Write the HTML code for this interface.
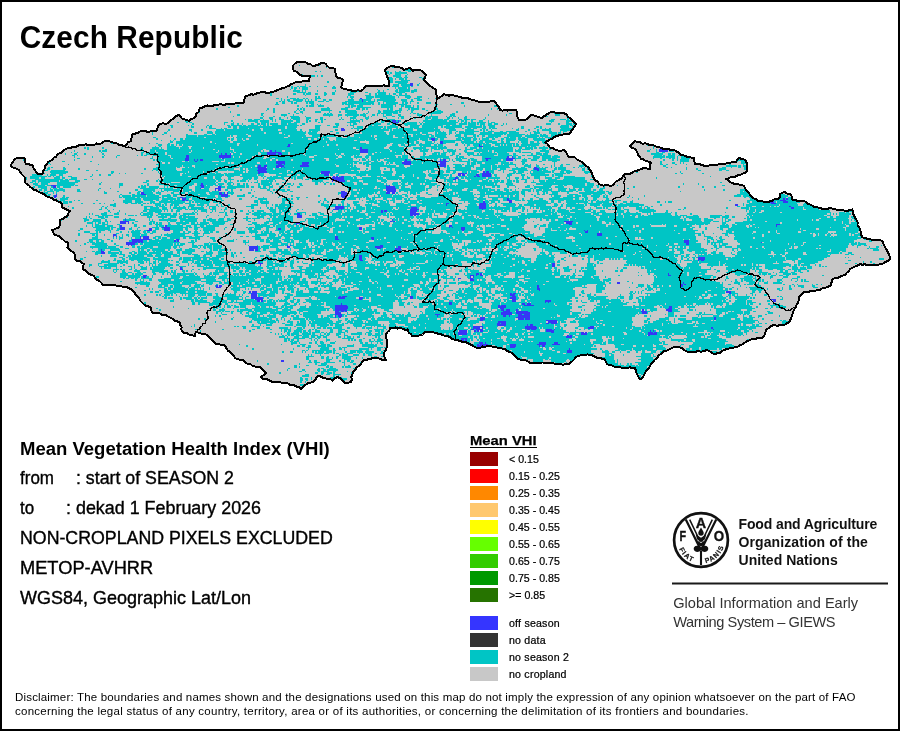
<!DOCTYPE html>
<html lang="en">
<head>
<meta charset="utf-8">
<title>Czech Republic - Mean Vegetation Health Index (VHI)</title>
<style>
html,body{margin:0;padding:0;background:#fff;}
body{width:900px;height:731px;overflow:hidden;font-family:"Liberation Sans",Arial,sans-serif;color:#000;}
#page{position:relative;width:900px;height:731px;box-sizing:border-box;border:2px solid #000;background:#fff;overflow:hidden;}
#page>*{position:absolute;}
#fg{left:0;top:0;width:896px;height:727px;will-change:transform;}
#fg>*{position:absolute;}
.abs{position:absolute;white-space:pre;margin:0;}
svg.map{left:-2px;top:-2px;}
h1{font-size:29.8px;font-weight:bold;left:17.7px;top:18.6px;line-height:34px;letter-spacing:0.1px;transform:scaleY(1.045);transform-origin:0 27.35px;}
.info{left:18px;font-size:17px;line-height:20px;}
.info b{font-weight:bold;}
.r{-webkit-text-stroke:0.35px #000;}
.lg{font-size:10px;line-height:12px;left:507.3px;letter-spacing:0.02px;transform:scaleX(1.06);transform-origin:0 0;-webkit-text-stroke:0.22px #000;}
.sw{left:468px;width:28px;height:14px;}
.lgt{left:467.6px;top:430.5px;font-size:13.4px;line-height:16px;font-weight:bold;letter-spacing:0;transform:scaleX(1.105);transform-origin:0 0;-webkit-text-stroke:0.25px #000;}
.lgu{left:468px;top:445px;width:67px;height:1.3px;background:#000;}
.fao{left:736.5px;font-size:14px;line-height:18px;font-weight:bold;color:#111;letter-spacing:-0.12px;}
.giews{left:671.2px;font-size:14.6px;line-height:18px;color:#333;}
.rule{left:670px;top:580px;width:216px;height:2px;background:#1a1a1a;transform:translateY(0.5px);}
.disc{left:13px;font-size:11.5px;line-height:14px;color:#000;}
</style>
</head>
<body>
<div id="page">
<svg class="map" width="900" height="420" viewBox="0 0 900 420">
<defs><clipPath id="cz"><path d="M11 166L11.7 163.4L13.3 161.7L14.5 159L17.1 158L18.9 157.7L21.8 158.5L24 157.5L24.9 159.6L25 161.7L26 164L28.5 163.8L30.3 164.9L32.5 165L33.4 167.5L34.3 169.6L36.2 171.8L37.5 174L40.1 173.8L42.5 174L43 171L44.6 169.1L45 166L46.6 164.4L48.4 161.9L50.1 161L52.2 159.6L54 157.5L56.2 156.7L57.4 154.2L59.8 153.1L62.5 152.2L63.5 150.4L66 149L68.6 147.8L70.8 147.8L72.6 146.7L75.6 147.2L77.6 145.9L79.7 145L82.5 145L85.6 144.3L88 144.9L90.9 145.4L94 145L96.6 143.5L99.2 144.1L102 143.1L104.3 141.3L107.5 141L110.1 141.5L112.5 142.5L114.6 142.7L117.4 143.6L119 145.2L121.5 145.2L124 146L126.2 144.8L128.2 142.2L131 141L131.2 138.3L132.4 136.4L132.5 134L135 133.6L137.5 133.1L139.4 131.7L141.5 131.1L144 131L147 131.6L149.1 131.6L152 131.2L155 131.5L157.1 129.7L158 126.4L160 124L163.3 123.3L166 124L168.1 122.7L170.1 120.9L172.5 119L174.6 117.9L176.2 115.9L179 115L180.8 117.1L182.5 119L184.9 119.4L186.6 120L189 121L191.1 119.2L193.8 118.3L196 116L196.5 113.6L198.8 111.8L199.1 110.1L200 107.5L202.7 107.5L204.9 106.1L207.6 105.5L210.3 106.1L212.4 105.8L215 105L217.3 105.3L219.9 104.2L222.3 104.6L225.1 104.6L227.6 103.9L230.2 103.9L232.5 104L235.6 103.3L238.3 103.1L241.2 103.1L244 102.5L244.4 99.9L244.7 98.1L246 96L248 95.6L250.8 94.3L253.2 94.6L255.7 94.2L257.7 92.8L260 92.5L262.7 92.3L264.7 92.3L267.7 93.1L270 92.5L272.7 92L275.1 91.2L277.2 90.1L280 89L282.5 88.2L284.8 87.7L287 86.6L289 86L291 84.2L292.6 83.7L295 82.5L297.8 82.4L300.9 81.8L303.4 81L306.2 81.2L309 81L309.4 78.8L310 76L307.2 75.7L305.3 76L302.5 75.9L300 75L298.7 73.3L296.4 71.7L294 71L292.7 68.7L292.5 66L294.9 63.6L297.5 62L300.2 62.2L303.5 62L306 62.5L308.1 63.7L310.7 64.2L312.2 65.7L315 66L317 64.7L319.2 64.4L321.3 62.8L324 62.5L325.9 64.2L327 65.7L329 67.5L332.1 67.6L335 69L334.8 71.7L335.9 73.9L336 76L337.8 77.6L340.1 78.3L342.5 79L342.5 82L342.1 84.9L341 87.5L343.4 88.7L345.2 88.6L347.9 90L350 90L352.8 91L355.4 90.7L358.1 90.3L361 91L362.8 89.7L364.5 87.9L366 86L368.9 85.9L371.1 85.5L374 85.5L376.1 86L378.9 85.5L381 85.8L383.8 85.3L386.5 86.1L389 86L389 82.7L388.6 80L387.5 77.5L386.6 75L385.7 72.6L385 70L386.8 68L388.5 67.2L391 66L393.4 66.4L395.4 66.6L397.4 67.3L400 67.5L402.5 68.2L404 70L407.3 68.7L410 67.5L411.5 69.4L412.5 71L414.5 70L417.3 70.5L420 70L422.2 71L424 73.1L426 75L424.8 77.8L424 80L426 81.7L427.6 83.8L430 86L432 87.1L433.8 88.3L436 90L436.3 92.4L436.4 94.9L437.4 96.8L437.5 99L439.4 97.4L442.3 96L444 94L446.9 95.2L449.1 95.6L452.1 94.7L455 96L457.7 96.4L460 96.9L462.1 97.8L464.6 98.2L467.7 98.2L470 99L472.3 100.1L475.3 100.5L477.3 101.2L480 102.5L482.4 101.9L485.3 102.4L488.2 102.3L491.2 101L494 101L495.7 103L497.4 105.1L499 107.2L500 110L502.5 110.6L505.5 109.7L507.8 110.6L510.8 109.8L513.4 110.4L516 110L517.1 112.1L517.2 115.3L517.7 117.9L519 120L521.7 119.9L525 120L527.5 118.7L529.2 116.7L531 115L533.2 115.3L535.6 116.1L538.2 116.9L540 117.5L542.5 117.5L545.2 115.5L547.6 113.9L550 112.5L552.8 112L555.8 112.7L558.1 113.4L561.3 113.1L564 113L566.5 114.6L568.2 117L570.3 118.2L572.3 120.2L573.9 122.3L576 124L574.8 126.2L573.2 128.4L571.9 130L570.8 132L569 134L566.2 133.8L563.1 134.5L560.5 134.7L557.5 136L554.5 136.8L552.3 138.6L549.9 139.6L547.6 140.9L545 142.5L547.3 143.8L548.6 146L550 147.5L553.4 148.5L556 150L559 150.7L561.1 150.7L564 150L566 152L567.3 154.6L569 157.5L571.6 157L575 157.5L577 159.6L579.9 161L582.5 162.5L584.3 164.8L586.4 166.1L588.4 167.6L590 170L591.3 171.9L592.3 174.4L593.2 176.5L594 179L595.1 180.6L597.7 181.2L599 184L601 185L603.8 185.6L606.4 185.1L608.6 185.4L611 186L613.4 184.6L614.8 182.7L616.5 181.1L619 180L621.7 178.3L623.2 175.9L625 174L627.5 174.1L630.1 173.7L632.5 172.5L634.6 171L637.3 170.6L639.2 169.9L642.1 168.6L644 167.5L647.3 168.6L650 169L650.4 166.6L650.2 164.3L651 162.5L648.2 161.6L645.8 161L643.5 159.3L641 159L639.7 156.3L638.1 155.1L637.1 151.9L636 150L634.3 148.5L631.7 147.8L630 146L631.6 144.3L633.3 142.9L635 141L637.2 142.2L640 141.7L642.1 143.6L645.4 143.4L647.8 144.2L650 145L653 145L654.8 145.8L657.8 147.3L660 147.5L662.9 148.7L665.9 149.2L668.1 149L671 150L674 150L676.5 151.4L678.8 152.5L681 155L683.8 155.3L686.5 156.6L689 157.3L691.5 157.6L694 158L694.3 160.7L695 164L698.1 163.9L700.8 164.6L702.9 165.4L706 166L708.8 165.7L711.3 164.6L714.2 164.5L717 164.7L720 164L722.7 163.7L725.1 164.2L727.7 162.6L730.4 162.6L733 162.1L736 162.5L737.1 159.8L739 157.5L741.1 158.8L743.6 159.2L746 161L746.7 163.2L746.8 166.3L746.8 168.3L747.5 171L745.6 172.8L742.6 173.7L740 175L737.9 175.3L735.3 176.7L733 176.9L730.8 177L728.4 178.8L726 179L728.5 180.5L730.2 182.2L732.7 183.2L735 184L737.4 184L739.5 184.7L741.5 184.9L744 186L745.2 188.7L746.6 190.6L748.5 192.5L750 195L752 196.8L753.8 198.5L756 199.3L757.5 201L760.1 200.8L762.6 201.2L764.9 202.2L767.5 202.5L770.1 201.2L772.4 200.5L774.6 199L778 198.8L780 197.5L780 194L782.7 192.7L785 192L786.5 193.4L789.3 193.8L791 195L792.1 197.8L792.5 200L795.2 200.1L797.2 200.8L799.8 201.3L802.5 201L805 201.6L807.6 203.6L810.4 204.7L812.9 206L815 207.5L817.5 207.3L820.1 208L822.5 209L824.9 208.5L827.6 208.8L830 208L832.4 208.6L834.9 209.3L837.8 209.7L839.9 209.9L842.9 209.8L845.2 211L847.5 211L849.8 209.9L852.5 209.5L852.7 212.1L853.7 215L855 217.5L856.4 219.8L857.6 222.4L857.5 224.8L859.4 227.6L860 230L861.3 232.4L861.2 235.2L862.5 237.5L865.5 237.7L867.5 239.1L870.1 239.1L872.5 240L874.7 240.1L877.2 239.9L879.8 240.2L882.5 241L883.5 243.8L884.8 246.6L886 249L887.5 251.2L888.6 253.7L889.5 255.9L890 259L887.9 261.1L884.9 261.9L882.5 264L880.2 263.9L877.6 265L875 265L872.5 265.5L869.7 264.5L867.2 265.1L864.9 264.2L862.2 264.8L860 264L857.6 265.6L854.7 266.6L852.1 267.8L850 269L848.6 271.4L846.6 272.9L845 275L842.4 275.6L840 276.9L837.7 278L835.2 278.2L832.5 279L831.6 282.1L831 285L829.1 286.3L826.7 287.3L824.7 288L822.1 288.4L819.7 289.9L817.5 290L815.1 290.8L812.7 291.3L810.4 291.4L807.8 291.7L805.2 292L803 292.5L801.5 294.7L799 297L798.9 299.7L798 302.5L796.6 304.9L795.7 307.3L794 310L793.2 311.7L792.5 314L791.6 316.6L790.7 318.7L790 321.5L787.4 323L785.5 324.4L783 325L780.5 325.3L778.5 325.5L776.2 325.5L773.1 325.3L771 326L768.6 328.2L766 330L765.4 332.4L765 334L764.1 336.3L762 338L759.3 338.4L757 338.2L754.5 339.5L752 339L750 340.2L747.3 341.1L745 342.5L743 344L740.5 345L738 346.5L734.9 347.4L732.7 347.7L729.4 348.4L727 349L724.3 349.9L721.9 351.2L720 353L717.5 353.2L715 354L711.9 353.1L709.4 351L707 350L704.4 350.8L702.1 351.5L700 351.5L697.8 351L694.6 352.3L692.3 351.6L690 352.5L687.6 351.9L684.5 350.2L682.8 348.4L680 347.5L676.7 346.8L674 347L671.3 348.4L669.3 349.3L667 350.5L664 351L662.4 352.4L660.5 354.2L658.6 355.6L657.2 358L655 359.5L653.3 361.6L651.6 363.4L650.3 365.4L649.3 367.4L647.5 369.5L645.8 371.1L644.9 373.1L643.9 375.3L642.4 377.8L641 379.5L639 378L637.7 375.5L636.5 373.3L635.9 370.5L635 368L632.3 368.3L629.8 367.1L627.5 368.3L624.9 367.7L622.3 367.9L619.6 367.2L617.5 367L614.9 367.1L612.2 365.7L610.3 364.8L607.5 364.5L605.9 362L605 359.5L602.7 359L599.9 357.6L597.4 357.8L595 357L592.9 355.6L589.9 354.7L587.5 354.5L584.8 354.6L582.4 355L580.2 355.5L577.5 356L575.6 357.7L574 359.5L572.3 361.3L570.7 362.3L569 364.5L566.2 363.9L563.3 364.8L560 364L557.5 364.1L555.2 363.9L552.6 363L550.2 362.7L547.5 363L545.1 362.7L542.4 362.5L540.3 362.7L537.6 362.6L534.7 362.6L532.5 363L530.2 362.9L527.2 361.1L525.2 360.3L523 359.8L520 359.5L517.6 358.5L515.8 356.3L513.8 355.3L512.6 353L510 352L507.4 351.1L505.5 349.4L502.7 348.8L500 348L497.7 347.7L494.9 347L492.5 346.7L490 346L487.2 346.2L485.1 346.7L482.6 346.5L479.8 348.3L477.5 348L475.3 347.2L472.9 345.8L470.3 344.5L468.4 343.6L466 342L463.1 342L461.1 341.4L458.2 340.4L456 340.5L453.7 339.2L451.7 338.6L449.9 337.1L447.5 336L445.4 335.8L442.5 335.1L441 333.9L438.1 333.8L436 333L433.3 332.2L430.7 332.2L427.5 331.8L425 332L422.5 334.5L420.2 335.1L417.5 336.2L415.4 335.7L412.5 336.5L410.7 333.9L408.8 332.5L407.5 329.5L404.9 329.7L402.2 328.6L400 328L397.7 328.7L395.4 327.3L392.6 328.4L390 328L389.4 330.4L387.2 332.3L386 334.5L386.2 337.1L386.5 339.2L386.9 342.1L387.5 344.5L387 346.7L386 349.2L385.3 350.8L384 353L384.3 355.8L384.9 358.3L386 360.5L383.2 360L380.4 359.2L378.1 358L375 358L372.8 357.9L369.7 359.3L367.5 359.5L365 359.5L362.5 361.3L360.9 364L359 366L356.1 367.7L355.2 370.2L352.5 372L352.5 374.3L351.3 377.2L352 379.2L351 382L347.9 382.8L345 383L343.4 381.2L341.1 379.6L340 378.2L337.5 377L334.6 378.6L332.5 380.5L330.3 379.1L327.4 379.3L325 378L322.5 377.5L320 376.2L317.5 376L316 378.2L315 380.5L313 381.9L309.8 382.8L307.5 383.5L305 385.3L302.9 387.2L301 389L299.5 387.3L297.5 387L294.8 385.6L292.4 385L290.2 385.3L287.9 383.3L285 383L282.8 383.1L280.4 382.4L277.7 382L274.7 381.8L272.5 382L270.4 380.8L267.7 379.7L265.9 378.8L262.7 378.6L261 377L263.3 375.4L266 373L264 370.9L261.6 369L260 367L257.7 367.1L255.1 366.6L252.5 366L250.6 364.2L248 364L245.7 362.7L244 361L242.2 359.8L239.7 359.6L237 359L235 358L234 355.7L231.8 354.1L230 352L227.9 350.6L226.5 348.7L226 346.7L224 345L221.6 344.7L218.9 344.3L216 344.5L214.1 342.2L212.2 340.6L210.4 338.2L208.3 336.2L206 334.5L203.3 333.9L200.7 333.4L198.3 332.7L196 332L195.1 334.3L195 336L192.1 335.4L189 334.5L187.1 333L184.5 332.9L182.5 332L181.4 329.5L181.6 327.3L180.3 325.1L180 323L177.5 321.3L175 321L173.6 319.4L171 317.9L169.3 317.3L167.2 315.9L165 314.5L162.1 314.9L160 313.4L157.4 313.2L155.3 313.4L152.5 313L151.4 310.6L151 308L149.1 306.7L146.6 306L144.1 304.5L142.5 303L140.7 301.3L139.7 299.1L138 297L135.7 295.1L135 293L133.4 291.7L131.9 289.8L129.6 288.6L127.5 287.5L124.8 287.4L122.2 286.5L119.4 286.4L116.5 285.6L114 285L111.5 285.5L108.6 284.5L105.3 284.8L102.5 285L101.5 282.9L99.7 281.2L97 279.8L95.3 278.1L94 276L91.9 274.9L89 274L87.1 272L85.4 270.3L82.5 269L82.7 266.2L84 264L81.6 263.1L79.9 261L77.2 261L75 259L74.7 256.6L74.7 254.6L74 252.5L71.8 251.3L69.6 249.6L67.5 247.5L68.1 245.1L67.5 242.5L64.6 241.2L62.5 239L60.7 238L58.3 235.7L55.7 235.4L54 234L52.9 231.9L52 230L54.6 229.3L56.4 228.3L59 227.5L59.8 225.1L59.6 222.3L60 220L63 218.7L65 217.1L67.5 216L68.1 213.5L70 211L67.5 210.2L65.2 208.8L62.5 207.5L62.4 204.9L61 202.5L58.3 201.7L56.3 200.3L54 200L51.7 197.9L48.5 197.1L45.9 195.9L44 194L41.6 193.2L39.1 192.1L36.5 190.4L34 190L32.6 188.4L30.6 187.3L29.1 185.5L26.9 184.3L25 182.5L25.5 179.7L25 177.5L23.1 175.6L21.5 173.9L20.2 172.1L19 170L16.5 168.6L13.4 167.7Z"/></clipPath></defs>
<path d="M11 166L11.7 163.4L13.3 161.7L14.5 159L17.1 158L18.9 157.7L21.8 158.5L24 157.5L24.9 159.6L25 161.7L26 164L28.5 163.8L30.3 164.9L32.5 165L33.4 167.5L34.3 169.6L36.2 171.8L37.5 174L40.1 173.8L42.5 174L43 171L44.6 169.1L45 166L46.6 164.4L48.4 161.9L50.1 161L52.2 159.6L54 157.5L56.2 156.7L57.4 154.2L59.8 153.1L62.5 152.2L63.5 150.4L66 149L68.6 147.8L70.8 147.8L72.6 146.7L75.6 147.2L77.6 145.9L79.7 145L82.5 145L85.6 144.3L88 144.9L90.9 145.4L94 145L96.6 143.5L99.2 144.1L102 143.1L104.3 141.3L107.5 141L110.1 141.5L112.5 142.5L114.6 142.7L117.4 143.6L119 145.2L121.5 145.2L124 146L126.2 144.8L128.2 142.2L131 141L131.2 138.3L132.4 136.4L132.5 134L135 133.6L137.5 133.1L139.4 131.7L141.5 131.1L144 131L147 131.6L149.1 131.6L152 131.2L155 131.5L157.1 129.7L158 126.4L160 124L163.3 123.3L166 124L168.1 122.7L170.1 120.9L172.5 119L174.6 117.9L176.2 115.9L179 115L180.8 117.1L182.5 119L184.9 119.4L186.6 120L189 121L191.1 119.2L193.8 118.3L196 116L196.5 113.6L198.8 111.8L199.1 110.1L200 107.5L202.7 107.5L204.9 106.1L207.6 105.5L210.3 106.1L212.4 105.8L215 105L217.3 105.3L219.9 104.2L222.3 104.6L225.1 104.6L227.6 103.9L230.2 103.9L232.5 104L235.6 103.3L238.3 103.1L241.2 103.1L244 102.5L244.4 99.9L244.7 98.1L246 96L248 95.6L250.8 94.3L253.2 94.6L255.7 94.2L257.7 92.8L260 92.5L262.7 92.3L264.7 92.3L267.7 93.1L270 92.5L272.7 92L275.1 91.2L277.2 90.1L280 89L282.5 88.2L284.8 87.7L287 86.6L289 86L291 84.2L292.6 83.7L295 82.5L297.8 82.4L300.9 81.8L303.4 81L306.2 81.2L309 81L309.4 78.8L310 76L307.2 75.7L305.3 76L302.5 75.9L300 75L298.7 73.3L296.4 71.7L294 71L292.7 68.7L292.5 66L294.9 63.6L297.5 62L300.2 62.2L303.5 62L306 62.5L308.1 63.7L310.7 64.2L312.2 65.7L315 66L317 64.7L319.2 64.4L321.3 62.8L324 62.5L325.9 64.2L327 65.7L329 67.5L332.1 67.6L335 69L334.8 71.7L335.9 73.9L336 76L337.8 77.6L340.1 78.3L342.5 79L342.5 82L342.1 84.9L341 87.5L343.4 88.7L345.2 88.6L347.9 90L350 90L352.8 91L355.4 90.7L358.1 90.3L361 91L362.8 89.7L364.5 87.9L366 86L368.9 85.9L371.1 85.5L374 85.5L376.1 86L378.9 85.5L381 85.8L383.8 85.3L386.5 86.1L389 86L389 82.7L388.6 80L387.5 77.5L386.6 75L385.7 72.6L385 70L386.8 68L388.5 67.2L391 66L393.4 66.4L395.4 66.6L397.4 67.3L400 67.5L402.5 68.2L404 70L407.3 68.7L410 67.5L411.5 69.4L412.5 71L414.5 70L417.3 70.5L420 70L422.2 71L424 73.1L426 75L424.8 77.8L424 80L426 81.7L427.6 83.8L430 86L432 87.1L433.8 88.3L436 90L436.3 92.4L436.4 94.9L437.4 96.8L437.5 99L439.4 97.4L442.3 96L444 94L446.9 95.2L449.1 95.6L452.1 94.7L455 96L457.7 96.4L460 96.9L462.1 97.8L464.6 98.2L467.7 98.2L470 99L472.3 100.1L475.3 100.5L477.3 101.2L480 102.5L482.4 101.9L485.3 102.4L488.2 102.3L491.2 101L494 101L495.7 103L497.4 105.1L499 107.2L500 110L502.5 110.6L505.5 109.7L507.8 110.6L510.8 109.8L513.4 110.4L516 110L517.1 112.1L517.2 115.3L517.7 117.9L519 120L521.7 119.9L525 120L527.5 118.7L529.2 116.7L531 115L533.2 115.3L535.6 116.1L538.2 116.9L540 117.5L542.5 117.5L545.2 115.5L547.6 113.9L550 112.5L552.8 112L555.8 112.7L558.1 113.4L561.3 113.1L564 113L566.5 114.6L568.2 117L570.3 118.2L572.3 120.2L573.9 122.3L576 124L574.8 126.2L573.2 128.4L571.9 130L570.8 132L569 134L566.2 133.8L563.1 134.5L560.5 134.7L557.5 136L554.5 136.8L552.3 138.6L549.9 139.6L547.6 140.9L545 142.5L547.3 143.8L548.6 146L550 147.5L553.4 148.5L556 150L559 150.7L561.1 150.7L564 150L566 152L567.3 154.6L569 157.5L571.6 157L575 157.5L577 159.6L579.9 161L582.5 162.5L584.3 164.8L586.4 166.1L588.4 167.6L590 170L591.3 171.9L592.3 174.4L593.2 176.5L594 179L595.1 180.6L597.7 181.2L599 184L601 185L603.8 185.6L606.4 185.1L608.6 185.4L611 186L613.4 184.6L614.8 182.7L616.5 181.1L619 180L621.7 178.3L623.2 175.9L625 174L627.5 174.1L630.1 173.7L632.5 172.5L634.6 171L637.3 170.6L639.2 169.9L642.1 168.6L644 167.5L647.3 168.6L650 169L650.4 166.6L650.2 164.3L651 162.5L648.2 161.6L645.8 161L643.5 159.3L641 159L639.7 156.3L638.1 155.1L637.1 151.9L636 150L634.3 148.5L631.7 147.8L630 146L631.6 144.3L633.3 142.9L635 141L637.2 142.2L640 141.7L642.1 143.6L645.4 143.4L647.8 144.2L650 145L653 145L654.8 145.8L657.8 147.3L660 147.5L662.9 148.7L665.9 149.2L668.1 149L671 150L674 150L676.5 151.4L678.8 152.5L681 155L683.8 155.3L686.5 156.6L689 157.3L691.5 157.6L694 158L694.3 160.7L695 164L698.1 163.9L700.8 164.6L702.9 165.4L706 166L708.8 165.7L711.3 164.6L714.2 164.5L717 164.7L720 164L722.7 163.7L725.1 164.2L727.7 162.6L730.4 162.6L733 162.1L736 162.5L737.1 159.8L739 157.5L741.1 158.8L743.6 159.2L746 161L746.7 163.2L746.8 166.3L746.8 168.3L747.5 171L745.6 172.8L742.6 173.7L740 175L737.9 175.3L735.3 176.7L733 176.9L730.8 177L728.4 178.8L726 179L728.5 180.5L730.2 182.2L732.7 183.2L735 184L737.4 184L739.5 184.7L741.5 184.9L744 186L745.2 188.7L746.6 190.6L748.5 192.5L750 195L752 196.8L753.8 198.5L756 199.3L757.5 201L760.1 200.8L762.6 201.2L764.9 202.2L767.5 202.5L770.1 201.2L772.4 200.5L774.6 199L778 198.8L780 197.5L780 194L782.7 192.7L785 192L786.5 193.4L789.3 193.8L791 195L792.1 197.8L792.5 200L795.2 200.1L797.2 200.8L799.8 201.3L802.5 201L805 201.6L807.6 203.6L810.4 204.7L812.9 206L815 207.5L817.5 207.3L820.1 208L822.5 209L824.9 208.5L827.6 208.8L830 208L832.4 208.6L834.9 209.3L837.8 209.7L839.9 209.9L842.9 209.8L845.2 211L847.5 211L849.8 209.9L852.5 209.5L852.7 212.1L853.7 215L855 217.5L856.4 219.8L857.6 222.4L857.5 224.8L859.4 227.6L860 230L861.3 232.4L861.2 235.2L862.5 237.5L865.5 237.7L867.5 239.1L870.1 239.1L872.5 240L874.7 240.1L877.2 239.9L879.8 240.2L882.5 241L883.5 243.8L884.8 246.6L886 249L887.5 251.2L888.6 253.7L889.5 255.9L890 259L887.9 261.1L884.9 261.9L882.5 264L880.2 263.9L877.6 265L875 265L872.5 265.5L869.7 264.5L867.2 265.1L864.9 264.2L862.2 264.8L860 264L857.6 265.6L854.7 266.6L852.1 267.8L850 269L848.6 271.4L846.6 272.9L845 275L842.4 275.6L840 276.9L837.7 278L835.2 278.2L832.5 279L831.6 282.1L831 285L829.1 286.3L826.7 287.3L824.7 288L822.1 288.4L819.7 289.9L817.5 290L815.1 290.8L812.7 291.3L810.4 291.4L807.8 291.7L805.2 292L803 292.5L801.5 294.7L799 297L798.9 299.7L798 302.5L796.6 304.9L795.7 307.3L794 310L793.2 311.7L792.5 314L791.6 316.6L790.7 318.7L790 321.5L787.4 323L785.5 324.4L783 325L780.5 325.3L778.5 325.5L776.2 325.5L773.1 325.3L771 326L768.6 328.2L766 330L765.4 332.4L765 334L764.1 336.3L762 338L759.3 338.4L757 338.2L754.5 339.5L752 339L750 340.2L747.3 341.1L745 342.5L743 344L740.5 345L738 346.5L734.9 347.4L732.7 347.7L729.4 348.4L727 349L724.3 349.9L721.9 351.2L720 353L717.5 353.2L715 354L711.9 353.1L709.4 351L707 350L704.4 350.8L702.1 351.5L700 351.5L697.8 351L694.6 352.3L692.3 351.6L690 352.5L687.6 351.9L684.5 350.2L682.8 348.4L680 347.5L676.7 346.8L674 347L671.3 348.4L669.3 349.3L667 350.5L664 351L662.4 352.4L660.5 354.2L658.6 355.6L657.2 358L655 359.5L653.3 361.6L651.6 363.4L650.3 365.4L649.3 367.4L647.5 369.5L645.8 371.1L644.9 373.1L643.9 375.3L642.4 377.8L641 379.5L639 378L637.7 375.5L636.5 373.3L635.9 370.5L635 368L632.3 368.3L629.8 367.1L627.5 368.3L624.9 367.7L622.3 367.9L619.6 367.2L617.5 367L614.9 367.1L612.2 365.7L610.3 364.8L607.5 364.5L605.9 362L605 359.5L602.7 359L599.9 357.6L597.4 357.8L595 357L592.9 355.6L589.9 354.7L587.5 354.5L584.8 354.6L582.4 355L580.2 355.5L577.5 356L575.6 357.7L574 359.5L572.3 361.3L570.7 362.3L569 364.5L566.2 363.9L563.3 364.8L560 364L557.5 364.1L555.2 363.9L552.6 363L550.2 362.7L547.5 363L545.1 362.7L542.4 362.5L540.3 362.7L537.6 362.6L534.7 362.6L532.5 363L530.2 362.9L527.2 361.1L525.2 360.3L523 359.8L520 359.5L517.6 358.5L515.8 356.3L513.8 355.3L512.6 353L510 352L507.4 351.1L505.5 349.4L502.7 348.8L500 348L497.7 347.7L494.9 347L492.5 346.7L490 346L487.2 346.2L485.1 346.7L482.6 346.5L479.8 348.3L477.5 348L475.3 347.2L472.9 345.8L470.3 344.5L468.4 343.6L466 342L463.1 342L461.1 341.4L458.2 340.4L456 340.5L453.7 339.2L451.7 338.6L449.9 337.1L447.5 336L445.4 335.8L442.5 335.1L441 333.9L438.1 333.8L436 333L433.3 332.2L430.7 332.2L427.5 331.8L425 332L422.5 334.5L420.2 335.1L417.5 336.2L415.4 335.7L412.5 336.5L410.7 333.9L408.8 332.5L407.5 329.5L404.9 329.7L402.2 328.6L400 328L397.7 328.7L395.4 327.3L392.6 328.4L390 328L389.4 330.4L387.2 332.3L386 334.5L386.2 337.1L386.5 339.2L386.9 342.1L387.5 344.5L387 346.7L386 349.2L385.3 350.8L384 353L384.3 355.8L384.9 358.3L386 360.5L383.2 360L380.4 359.2L378.1 358L375 358L372.8 357.9L369.7 359.3L367.5 359.5L365 359.5L362.5 361.3L360.9 364L359 366L356.1 367.7L355.2 370.2L352.5 372L352.5 374.3L351.3 377.2L352 379.2L351 382L347.9 382.8L345 383L343.4 381.2L341.1 379.6L340 378.2L337.5 377L334.6 378.6L332.5 380.5L330.3 379.1L327.4 379.3L325 378L322.5 377.5L320 376.2L317.5 376L316 378.2L315 380.5L313 381.9L309.8 382.8L307.5 383.5L305 385.3L302.9 387.2L301 389L299.5 387.3L297.5 387L294.8 385.6L292.4 385L290.2 385.3L287.9 383.3L285 383L282.8 383.1L280.4 382.4L277.7 382L274.7 381.8L272.5 382L270.4 380.8L267.7 379.7L265.9 378.8L262.7 378.6L261 377L263.3 375.4L266 373L264 370.9L261.6 369L260 367L257.7 367.1L255.1 366.6L252.5 366L250.6 364.2L248 364L245.7 362.7L244 361L242.2 359.8L239.7 359.6L237 359L235 358L234 355.7L231.8 354.1L230 352L227.9 350.6L226.5 348.7L226 346.7L224 345L221.6 344.7L218.9 344.3L216 344.5L214.1 342.2L212.2 340.6L210.4 338.2L208.3 336.2L206 334.5L203.3 333.9L200.7 333.4L198.3 332.7L196 332L195.1 334.3L195 336L192.1 335.4L189 334.5L187.1 333L184.5 332.9L182.5 332L181.4 329.5L181.6 327.3L180.3 325.1L180 323L177.5 321.3L175 321L173.6 319.4L171 317.9L169.3 317.3L167.2 315.9L165 314.5L162.1 314.9L160 313.4L157.4 313.2L155.3 313.4L152.5 313L151.4 310.6L151 308L149.1 306.7L146.6 306L144.1 304.5L142.5 303L140.7 301.3L139.7 299.1L138 297L135.7 295.1L135 293L133.4 291.7L131.9 289.8L129.6 288.6L127.5 287.5L124.8 287.4L122.2 286.5L119.4 286.4L116.5 285.6L114 285L111.5 285.5L108.6 284.5L105.3 284.8L102.5 285L101.5 282.9L99.7 281.2L97 279.8L95.3 278.1L94 276L91.9 274.9L89 274L87.1 272L85.4 270.3L82.5 269L82.7 266.2L84 264L81.6 263.1L79.9 261L77.2 261L75 259L74.7 256.6L74.7 254.6L74 252.5L71.8 251.3L69.6 249.6L67.5 247.5L68.1 245.1L67.5 242.5L64.6 241.2L62.5 239L60.7 238L58.3 235.7L55.7 235.4L54 234L52.9 231.9L52 230L54.6 229.3L56.4 228.3L59 227.5L59.8 225.1L59.6 222.3L60 220L63 218.7L65 217.1L67.5 216L68.1 213.5L70 211L67.5 210.2L65.2 208.8L62.5 207.5L62.4 204.9L61 202.5L58.3 201.7L56.3 200.3L54 200L51.7 197.9L48.5 197.1L45.9 195.9L44 194L41.6 193.2L39.1 192.1L36.5 190.4L34 190L32.6 188.4L30.6 187.3L29.1 185.5L26.9 184.3L25 182.5L25.5 179.7L25 177.5L23.1 175.6L21.5 173.9L20.2 172.1L19 170L16.5 168.6L13.4 167.7Z" fill="#c8c8c8"/>
<g clip-path="url(#cz)" shape-rendering="crispEdges" fill="none">
<path d="M299 65.5h1m18 0h2m78 0h1m11 0h1M405 68.5h2M315 71.5h2m3 0h1m62 0h6m6 0h1m3 0h2m7 0h3M302 74.5h1m83 0h1m2 0h1m5 0h6m6 0h1M338 77.5h1m2 0h1m44 0h6m4 0h6m2 0h4m11 0h3m1 0h2M390 80.5h3m8 0h9M377 83.5h1m11 0h1m8 0h9m12 0h1M279 86.5h2m3 0h1m6 0h2m4 0h2m1 0h6m3 0h2m6 0h1m6 0h3m6 0h2m9 0h1m24 0h2m1 0h5m15 0h7m3 0h8m1 0h2m16 0h2M290 89.5h1m3 0h2m6 0h6m36 0h3m4 0h3m23 0h1m9 0h2m7 0h2m1 0h11m4 0h3M255 92.5h2m40 0h9m2 0h3m13 0h2m6 0h3m15 0h6m9 0h3m9 0h9m10 0h9m6 0h3M270 95.5h2m33 0h1m18 0h2m22 0h3m14 0h6m4 0h17m4 0h2m1 0h11M276 98.5h3m2 0h1m8 0h6m1 0h2m4 0h2m1 0h2m7 0h6m30 0h2m13 0h6m8 0h15m12 0h3m4 0h6m8 0h1m6 0h2M279 101.5h2m1 0h3m3 0h5m3 0h6m3 0h9m4 0h6m2 0h3m16 0h17m1 0h3m2 0h7m2 0h1m5 0h12m7 0h5m3 0h4M275 104.5h4m32 0h3m3 0h1m2 0h1m21 0h2m1 0h9m5 0h12m1 0h2m4 0h2m1 0h15m3 0h8m28 0h3m12 0h2M228 107.5h2m72 0h1m24 0h2m16 0h5m1 0h2m4 0h14m10 0h12m8 0h1m3 0h9m3 0h2m15 0h3m63 0h3M266 110.5h1m6 0h2m21 0h1m2 0h1m3 0h2m16 0h11m13 0h11m6 0h1m15 0h2m3 0h10m2 0h7m5 0h1m3 0h3m12 0h2m9 0h4M261 113.5h3m24 0h2m6 0h3m3 0h1m21 0h2m1 0h2m1 0h2m15 0h10m6 0h2m1 0h2m9 0h3m1 0h11m1 0h5m12 0h1m2 0h3m1 0h2m10 0h12m11 0h3m54 0h3m42 0h1m11 0h3M233 116.5h1m29 0h1m9 0h2m9 0h1m5 0h9m6 0h1m23 0h1m8 0h1m8 0h1m5 0h4m6 0h3m2 0h1m2 0h1m11 0h3m6 0h3m4 0h5m6 0h1m8 0h1m3 0h2m1 0h2m1 0h9m8 0h1m2 0h3m1 0h3m9 0h2m78 0h3m18 0h1M245 119.5h1m2 0h4m2 0h6m3 0h1m6 0h3m2 0h1m3 0h5m6 0h1m2 0h7m6 0h3m6 0h3m2 0h3m1 0h2m13 0h2m1 0h2m6 0h1m2 0h1m2 0h1m3 0h3m3 0h2m12 0h1m6 0h8m30 0h3m3 0h12m1 0h5m10 0h3m2 0h6m1 0h5m7 0h2m66 0h4m5 0h6m1 0h2m3 0h3M177 122.5h2m7 0h2m1 0h3m32 0h4m5 0h1m21 0h3m3 0h8m12 0h10m3 0h6m6 0h2m10 0h2m1 0h2m24 0h9m3 0h1m15 0h3m3 0h3m5 0h3m10 0h3m2 0h10m2 0h1m2 0h1m2 0h33m3 0h1m2 0h3m1 0h2m1 0h5m1 0h9m2 0h1m2 0h4m56 0h1m14 0h3m4 0h3M170 125.5h3m15 0h1m2 0h1m15 0h2m1 0h2m15 0h3m1 0h11m1 0h3m2 0h10m2 0h1m2 0h3m1 0h2m3 0h27m1 0h2m13 0h6m6 0h3m6 0h3m8 0h1m2 0h4m15 0h3m2 0h4m12 0h6m9 0h3m2 0h10m2 0h21m3 0h4m2 0h10m6 0h8m4 0h2m1 0h2m3 0h7m6 0h2m58 0h8m1 0h3M209 128.5h7m5 0h1m2 0h3m6 0h4m2 0h9m1 0h11m3 0h22m2 0h9m19 0h5m31 0h2m1 0h9m2 0h16m2 0h3m1 0h5m4 0h2m1 0h14m1 0h20m1 0h3m8 0h9m7 0h2m3 0h4m2 0h4m5 0h4m3 0h2m1 0h5m15 0h1m5 0h1m2 0h3m10 0h2m4 0h2m3 0h1m3 0h2m10 0h15M167 131.5h1m23 0h1m15 0h5m3 0h88m2 0h1m3 0h2m1 0h6m12 0h3m27 0h24m6 0h15m2 0h27m1 0h6m2 0h1m5 0h3m4 0h2m1 0h5m1 0h14m4 0h2m3 0h6m6 0h3m3 0h10m9 0h2m6 0h3m1 0h2m10 0h3m8 0h1m2 0h4M152 134.5h1m9 0h2m22 0h2m16 0h3m5 0h3m1 0h30m2 0h36m1 0h20m4 0h12m2 0h3m7 0h3m18 0h33m2 0h15m1 0h3m5 0h3m1 0h5m4 0h6m3 0h12m2 0h1m6 0h5m3 0h12m3 0h24m1 0h2m1 0h18m2 0h1m2 0h7m3 0h2m1 0h3m5 0h7M153 137.5h3m30 0h18m2 0h21m6 0h1m2 0h48m4 0h14m1 0h15m3 0h6m9 0h6m5 0h12m1 0h14m1 0h18m5 0h4m2 0h31m2 0h10m11 0h6m1 0h8m1 0h2m6 0h1m3 0h8m1 0h3m6 0h5m1 0h6m2 0h3m1 0h3m2 0h10m2 0h1m2 0h1m2 0h15M113 140.5h1m47 0h1m8 0h1m2 0h1m6 0h48m3 0h2m4 0h6m2 0h85m3 0h2m1 0h18m3 0h8m1 0h51m5 0h6m7 0h2m3 0h22m2 0h7m2 0h3m4 0h12m6 0h2m1 0h2m3 0h9m4 0h9m6 0h21M111 143.5h2m36 0h1m6 0h2m10 0h2m6 0h39m1 0h21m3 0h51m2 0h73m3 0h21m3 0h11m1 0h3m3 0h3m2 0h3m1 0h2m3 0h9m3 0h1m5 0h3m10 0h2m4 0h2m1 0h20m1 0h3m3 0h23m1 0h2m4 0h6m2 0h10m3 0h2m1 0h3m92 0h1m3 0h8M155 146.5h1m3 0h2m6 0h9m6 0h6m4 0h95m3 0h33m1 0h62m4 0h9m5 0h3m1 0h3m9 0h2m1 0h20m1 0h2m21 0h1m6 0h5m4 0h8m1 0h2m4 0h14m1 0h14m1 0h2m1 0h5m7 0h2m6 0h3m99 0h1m8 0h3M87 149.5h2m16 0h2m33 0h3m7 0h14m3 0h46m2 0h15m4 0h29m3 0h40m2 0h30m1 0h17m3 0h1m8 0h21m1 0h14m1 0h3m6 0h2m3 0h3m1 0h6m2 0h1m2 0h6m1 0h2m4 0h6m2 0h1m3 0h2m4 0h8m3 0h37m2 0h1m2 0h3m1 0h8m1 0h2m9 0h4m3 0h2m99 0h1m5 0h1m11 0h4M57 152.5h3m11 0h1m5 0h1m23 0h1m39 0h3m5 0h7m2 0h7m2 0h22m2 0h25m2 0h12m1 0h3m2 0h22m2 0h7m14 0h7m2 0h70m8 0h7m2 0h3m1 0h14m1 0h6m2 0h1m2 0h1m15 0h2m9 0h6m3 0h4m2 0h1m2 0h3m10 0h9m5 0h1m2 0h10m2 0h1m2 0h10m12 0h2m1 0h9m5 0h4m5 0h4m107 0h3m3 0h3m12 0h1M72 155.5h3m2 0h1m26 0h1m12 0h3m17 0h1m3 0h2m1 0h3m6 0h15m3 0h15m3 0h30m12 0h24m2 0h9m13 0h26m1 0h8m3 0h19m2 0h1m2 0h3m1 0h8m1 0h2m1 0h2m7 0h29m7 0h6m15 0h2m4 0h17m4 0h3m3 0h3m9 0h2m3 0h21m4 0h14m1 0h5m4 0h3m2 0h10m3 0h11m3 0h4m96 0h8m1 0h2m3 0h7m3 0h3m3 0h2m1 0h3m3 0h2m43 0h2M77 158.5h3m70 0h3m5 0h13m2 0h12m4 0h32m3 0h39m3 0h6m3 0h49m5 0h7m2 0h15m3 0h1m5 0h3m1 0h2m3 0h13m2 0h1m2 0h19m5 0h12m1 0h12m2 0h1m2 0h7m5 0h6m1 0h5m3 0h4m8 0h3m6 0h15m9 0h6m3 0h1m3 0h3m2 0h6m3 0h15m96 0h1m6 0h2m7 0h2m1 0h3m2 0h1m3 0h9m47 0h9M62 161.5h3m25 0h2m67 0h2m1 0h20m3 0h3m1 0h6m2 0h15m7 0h2m4 0h51m9 0h74m7 0h5m3 0h4m3 0h2m4 0h15m9 0h20m1 0h6m9 0h2m4 0h2m4 0h11m3 0h33m15 0h6m12 0h3m10 0h5m103 0h2m18 0h9m31 0h3m12 0h3m3 0h6M50 164.5h1m17 0h1m29 0h1m57 0h60m2 0h60m4 0h2m1 0h17m6 0h27m1 0h11m1 0h2m1 0h2m10 0h2m1 0h18m2 0h1m2 0h1m6 0h8m9 0h24m16 0h8m1 0h2m3 0h3m1 0h5m4 0h15m6 0h2m1 0h12m6 0h2m1 0h3m2 0h1m5 0h1m6 0h2m9 0h1m6 0h2m3 0h4m12 0h2m76 0h3m3 0h2m7 0h2m9 0h1m42 0h2m12 0h1m2 0h3M48 167.5h2m1 0h2m10 0h2m91 0h20m1 0h3m5 0h3m1 0h5m1 0h23m3 0h3m6 0h9m1 0h11m1 0h5m10 0h9m6 0h2m1 0h8m1 0h56m1 0h6m14 0h9m7 0h18m2 0h33m4 0h2m1 0h3m3 0h18m2 0h1m2 0h15m1 0h18m6 0h2m3 0h4m3 0h3m6 0h3m2 0h1m2 0h3m3 0h1m3 0h2m1 0h8m7 0h2m3 0h1m2 0h1m2 0h1m53 0h1m6 0h2m19 0h2m3 0h1m14 0h1m35 0h4m5 0h1m6 0h3m3 0h2M41 170.5h7m3 0h14m21 0h3m7 0h2m54 0h1m3 0h2m1 0h18m5 0h31m5 0h9m1 0h11m1 0h6m3 0h8m9 0h21m3 0h6m1 0h3m2 0h49m3 0h3m8 0h1m3 0h12m9 0h2m3 0h31m2 0h1m2 0h7m2 0h3m3 0h31m3 0h2m3 0h9m4 0h3m2 0h1m5 0h6m3 0h10m3 0h6m2 0h3m1 0h5m4 0h3m6 0h9m12 0h3m47 0h3m3 0h1m59 0h3m18 0h3m4 0h3M39 173.5h2m1 0h3m6 0h15m45 0h2m6 0h1m5 0h1m15 0h2m16 0h21m3 0h2m1 0h18m5 0h6m1 0h5m3 0h3m1 0h30m2 0h4m5 0h10m3 0h12m2 0h24m9 0h6m3 0h7m3 0h33m3 0h8m4 0h29m4 0h2m7 0h5m9 0h3m9 0h1m3 0h9m3 0h2m10 0h2m15 0h6m1 0h6m5 0h1m2 0h15m9 0h12m1 0h3m15 0h3m3 0h2m82 0h2m4 0h2m19 0h2M30 176.5h17m1 0h3m2 0h1m2 0h4m2 0h1m5 0h4m18 0h2m70 0h2m1 0h23m3 0h22m2 0h7m5 0h7m6 0h18m3 0h2m1 0h2m4 0h2m1 0h5m3 0h9m1 0h5m1 0h8m1 0h23m10 0h2m3 0h7m2 0h3m4 0h2m9 0h6m3 0h1m2 0h16m6 0h8m1 0h12m3 0h15m2 0h1m3 0h2m4 0h2m1 0h8m1 0h6m2 0h1m3 0h2m9 0h1m3 0h2m10 0h3m12 0h2m3 0h1m6 0h6m5 0h1m6 0h2m4 0h5m1 0h11m16 0h5m114 0h1M26 179.5h1m8 0h28m2 0h3m1 0h8m7 0h3m5 0h1m65 0h1m2 0h54m1 0h6m2 0h1m3 0h6m8 0h6m1 0h2m3 0h3m9 0h1m2 0h6m7 0h3m9 0h2m6 0h1m2 0h4m3 0h17m15 0h33m1 0h8m1 0h11m1 0h30m3 0h2m10 0h9m6 0h2m6 0h3m1 0h12m3 0h3m5 0h1m2 0h1m9 0h3m6 0h2m3 0h6m12 0h1m8 0h9m6 0h22m5 0h3m22 0h2M30 182.5h3m2 0h1m2 0h1m2 0h9m7 0h21m23 0h1m41 0h4m14 0h1m2 0h7m9 0h35m1 0h2m7 0h2m1 0h5m18 0h1m2 0h4m3 0h8m1 0h2m10 0h2m31 0h3m2 0h1m2 0h1m2 0h3m13 0h11m4 0h5m1 0h18m3 0h2m7 0h5m1 0h2m1 0h5m1 0h23m18 0h49m2 0h4m3 0h5m4 0h3m5 0h3m4 0h5m4 0h14m1 0h35m22 0h2m106 0h2M35 185.5h10m2 0h4m5 0h18m1 0h3m41 0h4m18 0h2m1 0h2m1 0h2m15 0h10m3 0h15m5 0h3m4 0h2m1 0h6m2 0h3m1 0h3m6 0h5m4 0h8m1 0h3m9 0h2m3 0h7m2 0h1m8 0h3m1 0h2m4 0h2m7 0h3m39 0h2m1 0h41m1 0h2m4 0h8m1 0h6m3 0h15m3 0h6m2 0h3m3 0h6m1 0h5m1 0h21m3 0h5m1 0h14m7 0h8m12 0h3m3 0h1m9 0h9m6 0h5m1 0h3m5 0h13m2 0h7m2 0h3m3 0h1m2 0h1m11 0h1m104 0h3m21 0h1M41 188.5h6m3 0h1m2 0h4m2 0h4m36 0h2m9 0h1m29 0h18m1 0h14m4 0h12m6 0h5m4 0h5m18 0h9m24 0h7m2 0h1m78 0h14m1 0h11m3 0h1m2 0h6m10 0h3m2 0h9m1 0h14m1 0h5m13 0h2m1 0h2m1 0h14m4 0h14m1 0h8m13 0h3m11 0h1m11 0h3m1 0h2m3 0h10m2 0h1m6 0h9m2 0h1m3 0h2m4 0h3m2 0h7m9 0h5m22 0h2m117 0h3M35 191.5h1m8 0h1m2 0h7m2 0h3m4 0h2m12 0h4m23 0h1m12 0h2m19 0h3m2 0h9m1 0h2m3 0h1m2 0h3m3 0h1m5 0h6m4 0h6m2 0h3m1 0h15m2 0h7m9 0h2m1 0h2m21 0h1m15 0h2m10 0h5m3 0h3m58 0h27m2 0h6m13 0h2m3 0h4m2 0h12m24 0h1m2 0h21m9 0h12m3 0h9m3 0h3m3 0h7m2 0h4m3 0h3m2 0h1m2 0h3m3 0h6m3 0h9m1 0h12m3 0h2m7 0h9m3 0h8m1 0h3m2 0h1m68 0h1m59 0h3m1 0h2m1 0h3m33 0h3M44 194.5h3m1 0h3m69 0h2m10 0h3m2 0h4m5 0h9m4 0h2m6 0h3m3 0h9m3 0h13m2 0h7m3 0h9m12 0h2m10 0h2m42 0h1m50 0h1m12 0h17m1 0h3m5 0h16m2 0h1m2 0h1m3 0h5m3 0h1m2 0h3m12 0h4m6 0h11m1 0h3m2 0h18m1 0h2m1 0h38m1 0h3m3 0h3m6 0h2m4 0h3m2 0h3m4 0h9m11 0h9m4 0h9m2 0h9m3 0h1m3 0h2m126 0h16m26 0h6M45 197.5h5m12 0h3m1 0h3m50 0h3m1 0h12m2 0h3m1 0h20m1 0h2m3 0h6m4 0h3m3 0h2m1 0h5m1 0h5m10 0h9m2 0h3m4 0h3m23 0h1m3 0h2m6 0h1m14 0h1m5 0h1m11 0h4m6 0h2m40 0h14m1 0h2m1 0h3m3 0h9m2 0h21m3 0h1m2 0h3m3 0h9m6 0h15m1 0h5m6 0h19m2 0h4m5 0h21m1 0h9m17 0h3m13 0h8m3 0h16m5 0h4m5 0h6m4 0h5m19 0h2m3 0h1m111 0h2m3 0h7m17 0h1m2 0h1m2 0h7m2 0h3M56 200.5h3m1 0h5m9 0h1m3 0h2m16 0h2m15 0h1m9 0h9m3 0h6m3 0h9m3 0h3m2 0h7m2 0h3m1 0h8m3 0h1m2 0h4m2 0h22m5 0h3m30 0h4m2 0h3m3 0h1m15 0h9m29 0h1m3 0h3m15 0h3m17 0h1m6 0h5m1 0h2m1 0h5m3 0h3m1 0h5m10 0h15m2 0h31m6 0h18m2 0h4m2 0h3m1 0h11m3 0h4m8 0h6m1 0h3m2 0h6m1 0h12m5 0h3m4 0h6m2 0h18m1 0h2m1 0h2m1 0h5m1 0h2m3 0h1m2 0h7m2 0h7m11 0h1m96 0h2m16 0h18m2 0h13m6 0h11M56 203.5h1m2 0h9m13 0h2m10 0h2m4 0h2m3 0h1m9 0h2m9 0h3m3 0h6m1 0h3m2 0h3m1 0h2m1 0h2m1 0h8m3 0h3m4 0h12m2 0h6m6 0h1m2 0h9m10 0h2m36 0h1m3 0h8m12 0h4m5 0h4m27 0h3m18 0h2m3 0h1m5 0h4m11 0h1m2 0h1m2 0h15m7 0h8m4 0h11m3 0h15m3 0h1m2 0h3m3 0h7m2 0h4m8 0h6m3 0h1m6 0h2m1 0h3m3 0h2m4 0h14m3 0h1m8 0h24m3 0h3m6 0h1m3 0h9m2 0h1m5 0h3m1 0h14m1 0h12m5 0h3m3 0h13m104 0h1m5 0h22m5 0h21m7 0h5m3 0h1M68 206.5h1m33 0h2m3 0h1m5 0h3m28 0h9m3 0h2m1 0h6m5 0h1m3 0h3m2 0h1m3 0h2m3 0h6m7 0h2m3 0h1m2 0h7m2 0h1m2 0h3m22 0h8m12 0h1m8 0h10m2 0h6m31 0h5m1 0h5m9 0h6m6 0h6m4 0h11m3 0h28m2 0h10m2 0h3m1 0h33m6 0h14m7 0h3m2 0h1m2 0h3m1 0h2m6 0h9m3 0h6m6 0h21m1 0h5m3 0h3m3 0h19m9 0h3m6 0h8m1 0h15m2 0h10m2 0h1m3 0h3m3 0h2m84 0h3m6 0h6m4 0h6m2 0h6m1 0h3m2 0h1m2 0h10m2 0h27M99 209.5h3m5 0h1m5 0h1m30 0h17m1 0h6m3 0h2m4 0h5m3 0h3m1 0h8m1 0h9m3 0h6m5 0h1m2 0h3m42 0h7m3 0h5m1 0h3m2 0h1m6 0h2m3 0h1m26 0h1m9 0h2m1 0h8m3 0h12m1 0h8m1 0h17m1 0h2m3 0h9m19 0h5m1 0h14m4 0h6m2 0h3m3 0h1m2 0h15m1 0h6m2 0h1m3 0h8m1 0h6m2 0h6m4 0h3m2 0h1m12 0h8m1 0h2m1 0h3m3 0h8m6 0h6m3 0h4m3 0h5m15 0h3m1 0h9m3 0h5m7 0h18m24 0h3m2 0h1m62 0h3m1 0h5m1 0h47m3 0h13m5 0h4m5 0h1m8 0h1m2 0h1m2 0h1m2 0h3M68 212.5h1m35 0h3m3 0h1m6 0h2m22 0h2m4 0h6m2 0h6m15 0h1m15 0h2m1 0h2m9 0h1m3 0h2m7 0h5m1 0h2m3 0h3m1 0h2m13 0h2m3 0h7m2 0h3m6 0h4m3 0h3m2 0h6m7 0h9m12 0h3m9 0h2m4 0h6m3 0h15m5 0h6m4 0h6m2 0h4m2 0h1m2 0h18m15 0h9m1 0h8m1 0h8m7 0h6m2 0h15m1 0h11m3 0h1m20 0h3m12 0h3m6 0h12m1 0h2m1 0h12m5 0h10m6 0h5m1 0h9m8 0h10m2 0h4m6 0h2m4 0h9m2 0h1m11 0h3m3 0h1m3 0h2m48 0h1m23 0h4m2 0h4m3 0h18m2 0h49m8 0h6m1 0h3M95 215.5h4m3 0h11m15 0h6m1 0h2m4 0h8m1 0h3m3 0h2m3 0h3m1 0h12m3 0h6m2 0h1m18 0h2m9 0h1m6 0h3m26 0h6m1 0h5m3 0h9m1 0h11m19 0h2m1 0h6m5 0h6m3 0h34m2 0h13m2 0h6m1 0h20m7 0h2m1 0h12m2 0h4m9 0h3m5 0h4m2 0h7m3 0h2m3 0h10m2 0h7m2 0h1m2 0h6m12 0h27m3 0h12m1 0h2m1 0h2m1 0h27m2 0h19m3 0h5m1 0h6m2 0h4m2 0h3m1 0h2m4 0h24m3 0h3m2 0h7m6 0h5m12 0h12m3 0h4m17 0h1m2 0h3m1 0h71m3 0h4m8 0h10M59 218.5h3m21 0h4m3 0h2m9 0h4m20 0h1m3 0h2m18 0h1m12 0h2m4 0h3m8 0h7m2 0h10m11 0h3m7 0h5m3 0h3m1 0h3m9 0h8m1 0h8m3 0h1m3 0h3m2 0h21m13 0h8m1 0h2m1 0h18m3 0h2m1 0h17m4 0h3m3 0h11m10 0h2m1 0h2m1 0h2m1 0h11m1 0h2m4 0h2m1 0h6m5 0h31m2 0h12m1 0h2m3 0h3m4 0h11m1 0h9m2 0h15m1 0h2m6 0h1m3 0h2m1 0h24m3 0h5m1 0h21m2 0h81m4 0h2m3 0h12m3 0h4m6 0h2m6 0h1m2 0h3m16 0h2m1 0h72m2 0h27m4 0h6M84 221.5h2m6 0h9m4 0h3m2 0h1m24 0h3m12 0h5m12 0h1m2 0h6m4 0h3m2 0h12m6 0h3m4 0h18m20 0h3m15 0h15m1 0h6m3 0h2m7 0h5m3 0h27m1 0h11m1 0h24m2 0h6m1 0h2m1 0h3m5 0h1m3 0h12m2 0h4m2 0h9m6 0h1m2 0h15m1 0h20m1 0h56m6 0h1m17 0h13m9 0h29m3 0h97m2 0h7m2 0h6m3 0h1m2 0h4m14 0h22m2 0h75m1 0h6m6 0h3M92 224.5h1m2 0h4m3 0h6m9 0h3m14 0h3m12 0h3m3 0h7m6 0h3m6 0h3m2 0h4m5 0h16m2 0h1m3 0h11m6 0h3m15 0h4m2 0h6m1 0h6m3 0h6m2 0h9m1 0h3m2 0h3m3 0h6m4 0h2m4 0h5m1 0h11m1 0h20m1 0h5m1 0h5m10 0h6m3 0h6m2 0h21m10 0h2m1 0h2m3 0h1m2 0h1m5 0h3m1 0h2m6 0h16m2 0h1m2 0h9m1 0h5m1 0h3m2 0h3m3 0h25m12 0h2m4 0h3m2 0h13m2 0h6m3 0h34m5 0h1m2 0h36m1 0h11m1 0h2m1 0h21m2 0h6m1 0h8m1 0h3m14 0h3m1 0h2m4 0h3m2 0h12m1 0h3m2 0h21m4 0h65m1 0h11M93 227.5h17m1 0h5m3 0h1m11 0h1m6 0h2m12 0h7m2 0h1m8 0h18m1 0h3m2 0h6m1 0h14m10 0h2m19 0h2m1 0h5m1 0h8m3 0h7m3 0h9m3 0h2m1 0h11m1 0h6m5 0h13m2 0h3m3 0h24m7 0h51m2 0h3m4 0h8m7 0h8m1 0h2m1 0h8m4 0h11m1 0h5m3 0h7m2 0h28m12 0h2m3 0h1m8 0h10m2 0h10m2 0h61m2 0h55m2 0h3m4 0h2m4 0h2m10 0h2m1 0h9m2 0h16m2 0h6m1 0h2m1 0h71m1 0h12m3 0h12M78 230.5h2m15 0h10m3 0h3m5 0h3m13 0h2m1 0h6m3 0h3m6 0h3m17 0h10m3 0h2m7 0h2m3 0h1m2 0h12m19 0h2m13 0h8m6 0h1m2 0h3m6 0h10m2 0h4m2 0h4m5 0h25m2 0h1m3 0h26m4 0h33m2 0h3m1 0h23m1 0h8m12 0h16m2 0h15m6 0h40m20 0h6m6 0h3m1 0h3m2 0h18m1 0h2m1 0h35m1 0h3m2 0h6m1 0h3m2 0h33m1 0h8m3 0h12m24 0h1m3 0h50m1 0h26m3 0h39m1 0h17M78 233.5h2m10 0h8m18 0h3m13 0h9m3 0h3m3 0h3m14 0h1m3 0h18m3 0h8m3 0h7m15 0h2m10 0h8m6 0h1m3 0h2m4 0h14m4 0h2m1 0h3m2 0h76m2 0h43m3 0h21m8 0h6m4 0h8m1 0h5m7 0h18m11 0h9m3 0h9m1 0h3m3 0h2m3 0h1m9 0h24m2 0h10m2 0h16m5 0h76m2 0h21m1 0h2m9 0h1m8 0h6m1 0h23m1 0h24m3 0h30m2 0h1m2 0h3m1 0h8m1 0h2m1 0h2m1 0h15m2 0h4m3 0h6M95 236.5h3m21 0h1m2 0h1m5 0h1m3 0h8m1 0h2m12 0h6m6 0h25m3 0h8m4 0h2m21 0h1m9 0h3m3 0h3m3 0h8m9 0h6m3 0h4m2 0h51m3 0h78m1 0h32m1 0h2m3 0h31m3 0h2m3 0h24m3 0h13m3 0h6m2 0h24m4 0h42m2 0h79m8 0h7m5 0h1m3 0h2m6 0h1m6 0h27m2 0h49m2 0h15m1 0h2m1 0h24m2 0h3m3 0h3M89 239.5h13m5 0h3m9 0h1m11 0h1m18 0h2m3 0h4m2 0h13m5 0h1m15 0h2m1 0h2m12 0h3m3 0h3m12 0h1m2 0h1m18 0h9m2 0h3m1 0h2m1 0h6m3 0h11m1 0h14m1 0h12m5 0h9m4 0h15m3 0h15m2 0h3m1 0h2m1 0h23m1 0h2m1 0h33m2 0h7m2 0h4m2 0h30m6 0h3m1 0h18m9 0h6m2 0h7m5 0h27m1 0h56m1 0h5m9 0h39m1 0h5m1 0h6m8 0h1m2 0h1m3 0h3m2 0h1m3 0h5m9 0h123m7 0h6M87 242.5h2m1 0h5m1 0h8m33 0h1m2 0h1m2 0h15m1 0h21m8 0h7m14 0h1m33 0h6m17 0h16m5 0h7m5 0h1m2 0h4m5 0h1m2 0h7m2 0h3m1 0h5m1 0h5m1 0h6m2 0h19m3 0h18m3 0h20m3 0h1m3 0h17m4 0h14m1 0h9m2 0h1m6 0h2m3 0h3m1 0h27m2 0h7m9 0h2m1 0h113m1 0h42m5 0h7m11 0h3m1 0h12m15 0h23m3 0h39m3 0h48m1 0h2m1 0h2M80 245.5h1m14 0h13m8 0h3m13 0h3m8 0h30m1 0h9m9 0h5m1 0h5m1 0h8m1 0h9m26 0h1m8 0h1m5 0h7m2 0h12m1 0h2m4 0h3m2 0h12m4 0h2m3 0h6m1 0h9m2 0h3m1 0h14m3 0h24m3 0h31m2 0h18m1 0h3m2 0h12m12 0h1m2 0h28m2 0h16m5 0h3m1 0h3m12 0h18m2 0h19m2 0h49m2 0h18m1 0h8m1 0h9m2 0h33m12 0h4m2 0h7m11 0h64m2 0h16m2 0h27m4 0h2m3 0h4m3 0h3m14 0h1M92 248.5h1m5 0h21m6 0h4m9 0h9m3 0h21m3 0h2m4 0h2m7 0h3m6 0h2m4 0h2m3 0h3m1 0h8m3 0h1m33 0h3m2 0h6m7 0h3m11 0h1m3 0h9m3 0h30m6 0h9m2 0h4m3 0h8m1 0h8m4 0h2m3 0h9m12 0h10m2 0h6m1 0h8m4 0h15m3 0h2m4 0h5m1 0h14m16 0h5m1 0h2m3 0h4m3 0h3m14 0h3m6 0h37m2 0h61m2 0h30m1 0h11m3 0h15m7 0h2m3 0h3m13 0h6m2 0h16m2 0h6m1 0h24m3 0h2m3 0h19m2 0h1m2 0h25m21 0h2m1 0h8M86 251.5h1m5 0h3m1 0h5m7 0h3m8 0h3m10 0h3m3 0h8m1 0h2m4 0h2m1 0h12m2 0h3m4 0h3m2 0h13m6 0h3m2 0h1m2 0h3m6 0h4m33 0h6m8 0h21m4 0h2m1 0h15m2 0h9m3 0h1m3 0h21m6 0h30m2 0h13m8 0h1m2 0h1m3 0h3m2 0h4m5 0h3m1 0h17m1 0h6m2 0h3m4 0h3m3 0h5m1 0h11m4 0h15m3 0h2m1 0h2m24 0h1m5 0h33m1 0h41m1 0h15m2 0h13m2 0h12m1 0h6m5 0h4m5 0h3m3 0h6m1 0h3m8 0h3m18 0h1m3 0h33m2 0h54m4 0h9m2 0h4M95 254.5h3m13 0h5m3 0h6m6 0h4m2 0h15m4 0h6m2 0h13m2 0h1m8 0h3m1 0h6m6 0h8m6 0h10m3 0h3m32 0h1m6 0h2m4 0h3m2 0h19m2 0h3m1 0h2m4 0h8m3 0h25m2 0h16m2 0h42m1 0h6m3 0h3m2 0h7m2 0h3m1 0h9m3 0h8m4 0h2m3 0h3m1 0h2m1 0h2m4 0h18m2 0h9m1 0h3m23 0h1m2 0h4m2 0h4m2 0h1m17 0h4m2 0h21m1 0h33m2 0h6m1 0h39m5 0h4m3 0h2m3 0h1m2 0h1m2 0h3m1 0h3m2 0h10m9 0h3m2 0h31m8 0h4m2 0h3m1 0h17m4 0h21m2 0h1m14 0h4m2 0h3M84 257.5h2m33 0h4m3 0h2m1 0h18m6 0h2m3 0h13m9 0h2m1 0h27m2 0h9m12 0h1m9 0h2m10 0h2m9 0h6m6 0h1m2 0h1m15 0h6m3 0h3m3 0h2m6 0h3m4 0h12m5 0h1m2 0h12m3 0h3m3 0h1m2 0h1m2 0h25m3 0h66m5 0h3m7 0h6m3 0h2m1 0h9m2 0h18m13 0h18m9 0h2m21 0h6m1 0h47m1 0h26m1 0h6m6 0h2m1 0h3m2 0h1m2 0h3m1 0h2m7 0h26m1 0h11m1 0h26m1 0h14m1 0h41m18 0h1m2 0h1m11 0h1M102 260.5h2m4 0h2m3 0h3m1 0h5m1 0h2m1 0h2m3 0h3m3 0h6m1 0h6m5 0h1m2 0h12m1 0h2m6 0h1m3 0h11m3 0h13m2 0h9m34 0h11m1 0h5m1 0h2m1 0h2m4 0h3m2 0h3m1 0h3m18 0h9m2 0h13m3 0h2m7 0h12m3 0h2m6 0h3m1 0h20m3 0h28m2 0h3m1 0h20m1 0h20m1 0h3m2 0h1m5 0h1m2 0h34m2 0h4m2 0h1m5 0h18m4 0h2m4 0h2m22 0h2m4 0h2m3 0h4m24 0h51m2 0h1m3 0h8m1 0h5m1 0h2m3 0h82m6 0h3m3 0h24m26 0h3M98 263.5h4m6 0h11m1 0h3m3 0h2m12 0h4m5 0h3m1 0h3m3 0h11m9 0h1m8 0h1m2 0h1m2 0h18m1 0h17m4 0h12m9 0h3m9 0h12m2 0h3m6 0h4m9 0h5m3 0h21m10 0h3m3 0h3m5 0h10m2 0h1m2 0h1m5 0h7m3 0h6m2 0h1m9 0h8m1 0h2m9 0h37m11 0h4m2 0h1m2 0h1m2 0h6m1 0h11m1 0h18m3 0h24m2 0h1m35 0h7m3 0h2m1 0h3m24 0h48m2 0h1m9 0h14m7 0h11m1 0h5m1 0h26m1 0h20m6 0h10m9 0h3m3 0h11m30 0h3m7 0h2m3 0h1m12 0h2M89 266.5h1m9 0h8m1 0h9m3 0h2m6 0h4m2 0h1m5 0h3m3 0h1m5 0h15m1 0h2m9 0h7m6 0h2m3 0h7m2 0h1m2 0h4m6 0h2m3 0h4m3 0h8m1 0h17m1 0h3m5 0h3m3 0h6m1 0h5m1 0h2m3 0h3m4 0h6m6 0h17m1 0h2m4 0h2m6 0h4m3 0h5m4 0h33m5 0h3m1 0h17m3 0h31m3 0h11m9 0h1m3 0h3m11 0h19m2 0h40m15 0h2m18 0h9m42 0h1m2 0h1m3 0h36m5 0h15m10 0h2m15 0h34m3 0h21m3 0h2m1 0h5m6 0h1m3 0h5m7 0h2m1 0h2m1 0h2m33 0h1M113 269.5h6m1 0h2m1 0h2m4 0h3m3 0h2m3 0h7m3 0h14m12 0h1m15 0h2m4 0h2m3 0h3m10 0h8m9 0h1m2 0h3m7 0h15m8 0h3m1 0h2m3 0h1m21 0h21m6 0h9m12 0h6m3 0h8m1 0h9m2 0h6m1 0h17m1 0h5m7 0h2m4 0h17m4 0h3m17 0h1m2 0h7m2 0h1m9 0h2m1 0h36m2 0h10m2 0h15m4 0h2m1 0h2m4 0h8m3 0h1m5 0h1m5 0h7m27 0h2m24 0h7m2 0h25m2 0h28m3 0h2m10 0h6m2 0h16m2 0h3m1 0h6m6 0h5m4 0h8m3 0h3m1 0h15M114 272.5h2m6 0h4m2 0h4m5 0h4m2 0h3m6 0h3m4 0h6m2 0h3m1 0h5m7 0h2m9 0h1m15 0h2m1 0h15m2 0h1m8 0h3m3 0h1m3 0h8m1 0h3m2 0h3m3 0h12m13 0h2m1 0h29m10 0h8m1 0h2m1 0h2m1 0h5m4 0h20m4 0h2m3 0h13m2 0h7m2 0h10m2 0h1m2 0h19m20 0h1m3 0h12m2 0h19m2 0h3m6 0h3m1 0h41m15 0h1m8 0h12m42 0h1m8 0h36m1 0h3m2 0h10m2 0h6m9 0h1m9 0h20m1 0h3m8 0h10m5 0h1m5 0h9m3 0h4m5 0h3M120 275.5h21m11 0h1m18 0h15m3 0h6m2 0h1m6 0h2m1 0h3m2 0h1m2 0h1m6 0h6m2 0h3m1 0h2m1 0h2m3 0h1m3 0h35m7 0h2m1 0h6m3 0h2m6 0h6m1 0h2m1 0h8m3 0h1m3 0h2m7 0h44m4 0h17m1 0h14m4 0h14m3 0h1m2 0h3m16 0h5m4 0h2m1 0h3m5 0h3m3 0h3m4 0h2m3 0h3m9 0h6m3 0h3m1 0h32m1 0h5m1 0h3m2 0h4m2 0h4m2 0h10m24 0h2m18 0h1m2 0h1m11 0h1m2 0h12m3 0h16m2 0h10m3 0h11m24 0h3m7 0h2m1 0h2m3 0h1m8 0h1m6 0h5m3 0h4m3 0h3m33 0h2M95 278.5h1m27 0h2m1 0h3m2 0h3m1 0h3m3 0h11m12 0h15m3 0h33m3 0h36m1 0h2m4 0h17m1 0h3m5 0h1m2 0h1m2 0h7m3 0h3m3 0h2m6 0h6m4 0h5m3 0h1m2 0h6m1 0h84m2 0h7m5 0h12m13 0h2m3 0h12m6 0h21m1 0h12m5 0h39m1 0h23m1 0h5m9 0h3m43 0h56m3 0h1m12 0h3m11 0h12m1 0h3m2 0h3m9 0h1m11 0h1m9 0h6M98 281.5h1m21 0h2m18 0h4m2 0h1m12 0h23m1 0h12m6 0h20m3 0h1m2 0h19m2 0h12m1 0h15m5 0h9m1 0h17m3 0h10m5 0h1m5 0h6m4 0h17m3 0h7m3 0h3m2 0h43m2 0h4m2 0h1m2 0h1m5 0h3m6 0h1m14 0h6m3 0h15m9 0h9m4 0h9m2 0h4m6 0h8m1 0h9m3 0h18m2 0h3m1 0h29m1 0h2m1 0h3m18 0h2m25 0h62m15 0h1m3 0h3m3 0h2m3 0h9m4 0h2m1 0h2m3 0h1m9 0h3m2 0h1m12 0h2m4 0h2m1 0h5M137 284.5h1m2 0h10m9 0h9m5 0h18m4 0h6m2 0h1m5 0h3m4 0h2m4 0h2m4 0h2m3 0h10m2 0h18m1 0h6m2 0h9m1 0h8m1 0h2m1 0h2m1 0h6m2 0h3m7 0h2m3 0h1m2 0h1m3 0h2m1 0h3m12 0h8m3 0h3m1 0h53m6 0h6m3 0h10m20 0h1m6 0h3m3 0h8m1 0h36m2 0h25m2 0h42m10 0h9m32 0h6m3 0h1m3 0h30m2 0h1m2 0h37m5 0h3m7 0h2m4 0h2m1 0h6m2 0h4m24 0h2m7 0h2m3 0h1m14 0h1m3 0h2m3 0h1M135 287.5h2m21 0h7m3 0h5m1 0h11m3 0h1m2 0h10m8 0h1m20 0h1m2 0h13m5 0h9m1 0h6m5 0h6m3 0h1m2 0h1m3 0h5m1 0h2m10 0h3m5 0h4m6 0h2m3 0h7m3 0h2m6 0h3m1 0h3m3 0h20m1 0h2m1 0h29m4 0h2m1 0h2m1 0h8m1 0h3m2 0h4m6 0h2m22 0h2m1 0h2m4 0h3m2 0h13m2 0h1m3 0h18m3 0h8m1 0h6m2 0h36m7 0h5m9 0h9m24 0h1m6 0h2m3 0h1m5 0h4m2 0h63m1 0h8m7 0h2m12 0h1m2 0h15m18 0h1m6 0h2m10 0h3m9 0h5M144 290.5h2m13 0h2m3 0h4m2 0h34m11 0h1m17 0h7m2 0h1m17 0h1m3 0h8m1 0h5m4 0h3m3 0h2m1 0h3m3 0h2m1 0h3m6 0h12m3 0h23m6 0h9m1 0h45m2 0h7m3 0h14m1 0h8m6 0h4m5 0h4m2 0h12m1 0h3m2 0h1m2 0h1m3 0h2m4 0h3m2 0h1m3 0h9m2 0h1m2 0h3m7 0h2m1 0h8m1 0h35m7 0h2m12 0h6m40 0h2m3 0h4m2 0h1m6 0h48m3 0h17m24 0h4m2 0h4m2 0h1m14 0h3m33 0h1M161 293.5h1m3 0h8m1 0h2m4 0h26m1 0h5m3 0h3m9 0h1m2 0h1m3 0h2m7 0h2m3 0h3m6 0h9m3 0h6m1 0h2m4 0h2m1 0h5m6 0h31m2 0h13m2 0h60m1 0h2m4 0h5m9 0h16m12 0h3m2 0h7m2 0h21m1 0h3m3 0h5m1 0h5m1 0h3m2 0h1m3 0h5m3 0h6m1 0h2m1 0h41m7 0h3m5 0h1m14 0h1m23 0h3m1 0h2m3 0h1m2 0h1m3 0h20m1 0h59m6 0h7m12 0h3M162 296.5h2m1 0h2m12 0h1m8 0h6m3 0h1m2 0h1m5 0h1m6 0h6m3 0h20m4 0h3m9 0h2m3 0h4m2 0h6m9 0h6m4 0h15m2 0h1m3 0h20m1 0h3m2 0h1m5 0h13m3 0h18m2 0h13m2 0h1m8 0h3m3 0h3m1 0h2m6 0h15m6 0h4m5 0h3m1 0h5m1 0h11m7 0h8m10 0h11m4 0h2m6 0h3m1 0h47m7 0h2m3 0h7m2 0h12m10 0h6m5 0h4m6 0h5m1 0h39m2 0h9m1 0h3m2 0h6m6 0h10m3 0h2m1 0h2m3 0h16m18 0h2m7 0h2m1 0h2M173 299.5h1m6 0h2m4 0h8m1 0h3m2 0h3m12 0h9m3 0h16m2 0h9m15 0h4m5 0h1m2 0h1m2 0h4m5 0h3m1 0h3m5 0h7m5 0h1m2 0h39m3 0h1m8 0h36m12 0h3m3 0h9m3 0h3m4 0h5m10 0h9m3 0h3m8 0h3m3 0h1m2 0h3m1 0h3m2 0h1m2 0h6m7 0h2m3 0h7m2 0h40m18 0h2m1 0h18m2 0h9m9 0h3m6 0h3m1 0h56m1 0h26m1 0h2m9 0h10m33 0h3M144 302.5h2m46 0h3m3 0h12m2 0h9m1 0h5m1 0h5m1 0h17m1 0h12m3 0h9m9 0h3m3 0h3m2 0h3m4 0h3m3 0h12m2 0h1m2 0h67m6 0h6m3 0h2m1 0h2m9 0h27m3 0h3m1 0h3m2 0h1m3 0h2m1 0h2m3 0h6m3 0h7m2 0h9m1 0h3m2 0h21m1 0h2m1 0h14m1 0h2m1 0h18m15 0h5m13 0h9m2 0h12m3 0h3m4 0h3m2 0h69m1 0h21m5 0h12m1 0h9M209 305.5h4m3 0h2m1 0h2m3 0h1m2 0h3m1 0h2m1 0h2m4 0h6m8 0h4m2 0h15m7 0h5m3 0h6m9 0h1m5 0h6m1 0h3m5 0h9m12 0h7m2 0h22m3 0h12m6 0h5m9 0h1m5 0h9m1 0h27m6 0h17m12 0h7m2 0h1m5 0h18m10 0h21m2 0h13m12 0h3m9 0h2m4 0h6m2 0h15m10 0h2m4 0h2m4 0h12m2 0h1m2 0h22m2 0h1m2 0h1m2 0h1m2 0h1m2 0h1m12 0h6m3 0h2m4 0h24m20 0h9m1 0h3M156 308.5h2m30 0h1m20 0h1m3 0h2m1 0h2m4 0h2m9 0h1m11 0h3m4 0h20m4 0h6m2 0h4m2 0h3m6 0h31m2 0h3m13 0h6m3 0h5m1 0h8m10 0h12m33 0h11m3 0h6m1 0h15m5 0h10m2 0h1m2 0h4m5 0h7m6 0h14m1 0h24m2 0h27m22 0h42m3 0h18m8 0h3m4 0h3m3 0h2m9 0h1m24 0h41m10 0h3m2 0h1m9 0h3M216 311.5h5m1 0h2m1 0h5m1 0h3m3 0h6m5 0h6m1 0h20m1 0h12m2 0h6m3 0h4m5 0h13m18 0h2m3 0h1m8 0h3m1 0h5m3 0h12m10 0h5m28 0h2m3 0h9m1 0h5m1 0h9m2 0h1m2 0h9m3 0h1m3 0h20m4 0h8m7 0h5m13 0h44m21 0h15m3 0h30m6 0h3m1 0h2m19 0h8m36 0h12m3 0h1m2 0h9m1 0h6m3 0h3m11 0h3M222 314.5h5m15 0h1m5 0h1m2 0h12m6 0h1m3 0h3m3 0h11m4 0h2m4 0h2m1 0h14m13 0h5m7 0h3m2 0h25m11 0h4m3 0h5m1 0h5m1 0h2m3 0h4m9 0h15m5 0h4m2 0h1m2 0h1m3 0h8m6 0h1m5 0h1m2 0h1m3 0h5m1 0h15m14 0h3m4 0h2m6 0h27m1 0h12m2 0h6m4 0h2m1 0h51m2 0h1m26 0h1m2 0h6m22 0h5m1 0h11m4 0h3m5 0h12m3 0h1m2 0h3m1 0h2m16 0h2M233 317.5h1m15 0h8m1 0h9m2 0h7m5 0h3m9 0h6m6 0h13m3 0h2m1 0h5m1 0h5m1 0h3m15 0h17m1 0h2m4 0h5m1 0h5m3 0h16m3 0h5m3 0h22m8 0h1m2 0h12m1 0h5m18 0h3m4 0h21m14 0h21m1 0h2m1 0h20m1 0h2m1 0h2m4 0h47m33 0h4m23 0h6m3 0h13m2 0h21m6 0h4m2 0h6m3 0h1M251 320.5h1m2 0h15m1 0h5m1 0h3m5 0h1m3 0h2m10 0h6m2 0h1m2 0h3m1 0h17m6 0h4m3 0h2m1 0h2m1 0h11m4 0h5m1 0h27m2 0h7m5 0h1m2 0h28m6 0h17m3 0h10m3 0h8m1 0h23m1 0h30m11 0h7m9 0h2m4 0h21m3 0h29m12 0h4m8 0h10m2 0h1m5 0h1m5 0h31m2 0h1m2 0h25m2 0h15m13 0h2m7 0h2m1 0h3M258 323.5h9m3 0h3m9 0h3m5 0h3m4 0h9m3 0h18m2 0h10m3 0h2m1 0h3m2 0h28m12 0h5m3 0h27m1 0h18m5 0h1m2 0h24m6 0h1m2 0h12m3 0h1m5 0h34m2 0h4m3 0h2m6 0h3m19 0h18m2 0h1m2 0h30m16 0h14m1 0h5m1 0h3m6 0h9m6 0h3m3 0h3m3 0h36m2 0h10m6 0h3m3 0h2m15 0h7M191 326.5h1m2 0h1m39 0h2m1 0h2m3 0h4m5 0h9m3 0h1m30 0h2m6 0h4m5 0h4m5 0h7m8 0h7m12 0h8m1 0h3m5 0h1m2 0h1m2 0h9m3 0h9m1 0h5m4 0h5m1 0h26m13 0h20m10 0h15m6 0h11m1 0h9m11 0h18m3 0h4m3 0h2m12 0h12m6 0h1m2 0h13m2 0h21m7 0h2m1 0h48m5 0h51m1 0h12m20 0h3M195 329.5h5m22 0h2m28 0h3m15 0h2m9 0h1m2 0h7m5 0h7m6 0h2m1 0h2m1 0h2m13 0h3m5 0h7m23 0h1m5 0h10m2 0h1m2 0h1m2 0h3m4 0h6m3 0h33m2 0h1m5 0h1m2 0h16m2 0h1m3 0h2m9 0h13m2 0h1m5 0h3m3 0h10m3 0h2m3 0h1m5 0h4m5 0h1m6 0h2m1 0h8m16 0h2m3 0h1m3 0h2m3 0h37m2 0h12m1 0h9m3 0h56m1 0h23m1 0h9m2 0h3M270 332.5h2m12 0h1m2 0h3m3 0h6m1 0h2m1 0h5m1 0h2m1 0h8m1 0h3m2 0h1m2 0h4m5 0h7m2 0h1m9 0h5m4 0h5m7 0h2m1 0h2m4 0h3m18 0h6m2 0h42m10 0h3m3 0h9m5 0h7m2 0h9m1 0h17m1 0h6m2 0h18m3 0h15m1 0h11m7 0h35m3 0h16m2 0h4m5 0h1m3 0h24m2 0h15m12 0h1m2 0h15m1 0h14m1 0h3m8 0h3M282 335.5h2m1 0h2m1 0h2m1 0h3m2 0h6m1 0h6m2 0h7m2 0h4m2 0h3m7 0h3m5 0h4m11 0h1m8 0h3m1 0h9m32 0h1m3 0h2m15 0h1m2 0h9m3 0h10m3 0h11m6 0h1m2 0h21m1 0h12m2 0h45m6 0h1m2 0h1m2 0h72m3 0h10m5 0h4m3 0h2m12 0h19m5 0h7m5 0h9m1 0h2m4 0h3m2 0h1M284 338.5h6m3 0h12m4 0h3m3 0h2m1 0h2m6 0h1m15 0h12m9 0h2m7 0h2m4 0h3m32 0h1m32 0h3m1 0h11m6 0h6m3 0h1m2 0h4m2 0h12m3 0h1m5 0h4m2 0h1m2 0h1m2 0h3m1 0h50m3 0h27m9 0h1m2 0h9m1 0h35m7 0h3m2 0h1m12 0h24m3 0h11M284 341.5h3m3 0h3m1 0h5m16 0h2m3 0h3m3 0h1m8 0h1m23 0h3m7 0h5m1 0h6m8 0h1m66 0h2m1 0h2m6 0h3m9 0h25m3 0h21m2 0h1m2 0h33m1 0h23m3 0h10m2 0h1m2 0h52m2 0h3m13 0h2m1 0h12m2 0h22m2 0h9m18 0h1M239 344.5h1m41 0h1m9 0h2m7 0h6m11 0h1m3 0h5m1 0h3m23 0h1m8 0h12m1 0h2m4 0h2m85 0h2m1 0h6m2 0h1m8 0h19m2 0h1m6 0h5m1 0h15m9 0h6m8 0h24m1 0h9m6 0h6m8 0h7m3 0h29m1 0h5m4 0h5m13 0h3m8 0h33m1 0h6m8 0h1m2 0h1M306 347.5h5m10 0h8m10 0h2m1 0h5m21 0h6m3 0h6m1 0h2m88 0h2m1 0h18m2 0h6m3 0h4m5 0h25m2 0h1m2 0h4m2 0h1m2 0h37m24 0h50m12 0h4m8 0h10m2 0h30M302 350.5h3m1 0h2m4 0h20m1 0h3m8 0h1m5 0h12m4 0h3m8 0h4m2 0h1m93 0h3m24 0h6m2 0h40m3 0h12m5 0h19m11 0h1m2 0h3m7 0h5m1 0h5m4 0h2m3 0h6m1 0h3m2 0h10m5 0h4m2 0h3m12 0h13m2 0h12M315 353.5h8m1 0h5m4 0h2m1 0h3m3 0h2m3 0h6m6 0h1m3 0h2m1 0h6m3 0h2m3 0h4m125 0h30m4 0h20m3 0h28m11 0h7m29 0h12m7 0h2m34 0h8m4 0h15M306 356.5h8m7 0h3m3 0h2m7 0h3m3 0h11m18 0h1m2 0h3m4 0h2m129 0h3m1 0h5m1 0h59m1 0h12m11 0h9m22 0h15m2 0h3m1 0h5m52 0h3M240 359.5h2m64 0h3m17 0h6m12 0h7m171 0h2m1 0h3m5 0h10m2 0h3m1 0h18m2 0h9m16 0h20m3 0h1m20 0h18m1 0h2M308 362.5h4m2 0h6m4 0h11m7 0h3m5 0h3m7 0h5m160 0h2m4 0h3m3 0h12m2 0h3m1 0h9m2 0h1m3 0h5m30 0h10m2 0h1m17 0h18M294 365.5h3m9 0h3m9 0h8m1 0h2m15 0h1m3 0h2m181 0h8m1 0h2m1 0h6m2 0h1m12 0h3m2 0h3m34 0h2m1 0h15m2 0h9m1 0h2m1 0h11m1 0h3M255 368.5h2m31 0h2m28 0h2m1 0h3m5 0h7m17 0h3m256 0h39M299 371.5h3m3 0h1m12 0h2m1 0h8m4 0h3m11 0h1m287 0h12m1 0h2M305 374.5h4m12 0h2m3 0h4m3 0h8m300 0h4M300 377.5h2m9 0h1m18 0h12m297 0h2M300 380.5h3m3 0h2m9 0h1m12 0h5m6 0h4M269 383.5h1m15 0h2" stroke="#00c5c5" stroke-width="1"/>
<path d="M312 64h2M326 67h1m6 0h2m57 0h4m3 0h2m1 0h2M384 70h2m19 0h6M384 73h2m1 0h2m1 0h2m3 0h12M302 76h1m3 0h2m3 0h4m2 0h1m3 0h2m61 0h3m6 0h8m4 0h2M387 79h6m2 0h1m3 0h5m1 0h2m15 0h3M327 82h2m60 0h4m2 0h13M305 85h1m68 0h3m4 0h2m10 0h6m2 0h9m7 0h2M291 88h2m1 0h3m2 0h1m2 0h6m24 0h4m11 0h3m12 0h1m32 0h1m2 0h9m1 0h2M293 91h7m2 0h1m2 0h1m11 0h1m17 0h1m14 0h12m16 0h2m3 0h1m11 0h3m1 0h11m1 0h6M251 94h3m16 0h2m21 0h3m7 0h2m1 0h5m4 0h3m6 0h3m5 0h3m13 0h6m15 0h2m4 0h2m1 0h8m3 0h1m3 0h3m3 0h3m3 0h2M287 97h1m27 0h2m1 0h2m27 0h1m2 0h4m12 0h8m1 0h20m3 0h1m6 0h6m6 0h5M281 100h1m2 0h1m2 0h3m3 0h10m2 0h1m2 0h1m2 0h1m3 0h2m6 0h3m3 0h3m16 0h6m5 0h3m1 0h8m3 0h1m2 0h19m5 0h6m4 0h2m4 0h5M276 103h2m4 0h3m6 0h2m1 0h3m9 0h2m1 0h5m28 0h5m1 0h26m4 0h2m3 0h1m2 0h12m4 0h2m1 0h3m2 0h1m6 0h2m7 0h5m30 0h3M237 106h2m58 0h2m7 0h2m1 0h5m4 0h6m24 0h2m1 0h5m1 0h6m18 0h12m2 0h1m5 0h3m1 0h6m2 0h1m3 0h2m16 0h2m27 0h1m29 0h3M216 109h2m49 0h2m4 0h2m22 0h2m1 0h2m1 0h2m16 0h9m11 0h7m8 0h4m2 0h3m1 0h2m19 0h2m1 0h3m6 0h3m6 0h2m1 0h8m3 0h3m10 0h3m53 0h1m5 0h1M198 112h2m30 0h1m42 0h2m19 0h2m4 0h3m12 0h6m8 0h1m9 0h2m4 0h12m11 0h1m9 0h3m2 0h15m1 0h2m10 0h2m19 0h11m13 0h2M237 115h3m21 0h2m18 0h6m6 0h1m29 0h10m5 0h4m3 0h14m1 0h6m6 0h3m2 0h1m5 0h1m2 0h6m6 0h3m16 0h5m9 0h1m18 0h5m33 0h1m17 0h1m48 0h5m6 0h1M260 118h3m6 0h4m6 0h2m6 0h1m3 0h9m6 0h5m9 0h3m18 0h1m8 0h6m9 0h4m17 0h1m11 0h1m2 0h3m10 0h2m9 0h6m1 0h6m9 0h3m2 0h1m5 0h1m5 0h3m18 0h1m81 0h5M185 121h3m43 0h2m15 0h10m2 0h9m3 0h1m2 0h1m5 0h12m3 0h4m6 0h2m1 0h2m4 0h2m4 0h2m27 0h10m2 0h1m18 0h11m4 0h2m1 0h2m22 0h24m2 0h7m2 0h1m2 0h3m1 0h2m4 0h2m6 0h4m5 0h1m60 0h5m12 0h9M192 124h2m30 0h1m6 0h3m3 0h2m3 0h1m8 0h3m3 0h3m1 0h5m1 0h2m1 0h8m3 0h6m1 0h9m5 0h3m30 0h4m11 0h1m2 0h4m14 0h10m6 0h3m2 0h6m6 0h13m3 0h2m1 0h33m3 0h8m1 0h8m1 0h2m1 0h5m3 0h4m2 0h4m5 0h1m2 0h1m39 0h5m7 0h2m6 0h6m1 0h2M171 127h2m18 0h3m12 0h1m2 0h3m16 0h3m2 0h4m2 0h46m2 0h10m18 0h5m13 0h5m15 0h1m3 0h6m5 0h15m1 0h2m1 0h11m3 0h1m8 0h9m3 0h16m3 0h2m1 0h18m3 0h17m1 0h3m3 0h6m26 0h3m12 0h3m1 0h2m18 0h9m3 0h4M168 130h2m19 0h3m9 0h2m13 0h8m1 0h27m2 0h7m2 0h15m3 0h16m3 0h2m7 0h11m15 0h3m19 0h2m3 0h27m1 0h2m1 0h20m4 0h23m9 0h7m9 0h9m6 0h2m1 0h2m1 0h2m3 0h1m24 0h3m9 0h2m7 0h2m3 0h9m9 0h15M152 133h1m11 0h3m27 0h3m10 0h6m2 0h49m2 0h13m3 0h24m2 0h9m19 0h3m20 0h1m2 0h24m3 0h31m2 0h6m7 0h2m1 0h8m3 0h3m3 0h1m3 0h15m6 0h12m2 0h13m2 0h10m11 0h1m3 0h6m9 0h8m1 0h3m2 0h1M170 136h1m15 0h11m1 0h32m1 0h2m4 0h11m3 0h37m2 0h16m6 0h9m2 0h13m2 0h1m6 0h5m4 0h17m1 0h2m3 0h16m2 0h16m2 0h16m2 0h3m1 0h11m9 0h6m3 0h3m6 0h3m1 0h2m3 0h3m3 0h13m6 0h15m3 0h14m1 0h8m3 0h6m6 0h3M156 139h2m16 0h2m4 0h3m2 0h42m1 0h2m1 0h3m3 0h5m1 0h3m3 0h59m3 0h3m3 0h6m1 0h5m7 0h39m2 0h42m1 0h8m1 0h2m4 0h3m2 0h4m12 0h5m1 0h9m2 0h4m2 0h1m2 0h7m3 0h3m6 0h3m2 0h10m2 0h10m5 0h12m3 0h9M101 142h1m26 0h1m41 0h3m3 0h34m2 0h18m3 0h93m1 0h33m9 0h45m2 0h3m6 0h7m2 0h1m8 0h12m6 0h13m2 0h1m2 0h4m2 0h12m4 0h3m2 0h4m8 0h1m2 0h7m2 0h4m3 0h2m3 0h9m90 0h1m2 0h1M120 145h2m36 0h4m5 0h3m1 0h3m2 0h1m2 0h3m1 0h54m2 0h18m1 0h30m2 0h37m2 0h7m2 0h49m5 0h6m3 0h4m3 0h8m3 0h12m3 0h3m1 0h5m12 0h3m6 0h1m2 0h3m3 0h6m1 0h2m1 0h8m4 0h5m1 0h2m1 0h2m1 0h5m1 0h2m1 0h3m2 0h18m9 0h3m96 0h4M84 148h2m1 0h2m13 0h2m37 0h2m9 0h7m2 0h1m5 0h12m1 0h9m2 0h12m1 0h26m1 0h122m3 0h4m2 0h22m5 0h15m9 0h13m5 0h6m1 0h9m18 0h2m3 0h7m2 0h3m1 0h30m6 0h3m3 0h8m1 0h3m2 0h9m1 0h5m7 0h2m90 0h1m11 0h1m2 0h7M60 151h2m12 0h1m24 0h2m1 0h5m36 0h1m6 0h5m1 0h35m1 0h26m1 0h14m1 0h27m2 0h1m5 0h1m2 0h3m1 0h6m3 0h75m8 0h22m2 0h12m1 0h2m4 0h2m7 0h8m3 0h1m11 0h1m3 0h9m8 0h3m7 0h14m1 0h3m2 0h19m2 0h6m19 0h9m98 0h3m6 0h1m12 0h5M65 154h1m8 0h3m7 0h2m16 0h2m37 0h2m3 0h19m2 0h54m1 0h3m2 0h3m3 0h7m2 0h16m3 0h6m9 0h2m4 0h6m2 0h13m2 0h30m1 0h5m3 0h16m8 0h4m2 0h28m2 0h1m18 0h3m6 0h5m1 0h2m1 0h5m6 0h3m4 0h2m6 0h7m3 0h2m1 0h17m1 0h11m4 0h3m15 0h2m3 0h6m1 0h5m18 0h3m82 0h12m5 0h3m1 0h3M74 157h1m17 0h1m9 0h2m12 0h1m35 0h1m5 0h12m1 0h15m3 0h30m12 0h2m1 0h5m1 0h12m2 0h10m5 0h40m5 0h24m4 0h9m3 0h8m3 0h4m2 0h25m2 0h3m1 0h6m3 0h3m6 0h29m7 0h2m1 0h5m18 0h25m6 0h3m2 0h3m12 0h7m2 0h9m1 0h8m93 0h12m1 0h9m2 0h1m3 0h6m2 0h3m45 0h6M23 160h1m50 0h1m78 0h2m1 0h29m4 0h5m1 0h2m1 0h2m3 0h21m1 0h21m2 0h22m2 0h4m2 0h13m2 0h19m2 0h12m3 0h24m6 0h1m2 0h4m2 0h1m2 0h6m1 0h2m4 0h21m2 0h4m2 0h3m1 0h8m6 0h1m2 0h3m4 0h2m6 0h1m2 0h1m3 0h6m6 0h2m1 0h6m5 0h4m2 0h13m2 0h3m9 0h1m6 0h5m4 0h6m5 0h4m2 0h12m103 0h2m7 0h2m3 0h1m2 0h9m45 0h1m3 0h9M48 163h2m108 0h4m3 0h3m2 0h58m2 0h1m3 0h23m3 0h6m1 0h9m9 0h17m7 0h44m1 0h3m2 0h3m1 0h6m2 0h13m2 0h3m1 0h3m2 0h7m9 0h11m1 0h15m29 0h3m1 0h5m1 0h5m3 0h13m3 0h8m1 0h3m9 0h3m29 0h1m105 0h2m10 0h3m5 0h1m2 0h1m27 0h5m7 0h2m1 0h3m12 0h5M158 166h24m1 0h9m3 0h42m2 0h1m2 0h13m2 0h1m3 0h3m3 0h9m8 0h16m9 0h27m3 0h14m1 0h2m10 0h3m2 0h25m3 0h5m6 0h30m7 0h2m6 0h7m3 0h9m6 0h11m1 0h5m1 0h11m6 0h1m8 0h7m5 0h3m12 0h1m2 0h1m5 0h3m16 0h5m61 0h2m16 0h3m60 0h11m1 0h3m2 0h6M42 169h2m3 0h3m13 0h3m12 0h2m64 0h2m7 0h23m6 0h33m1 0h18m6 0h3m2 0h1m2 0h10m9 0h6m2 0h27m1 0h57m6 0h2m3 0h9m4 0h2m4 0h2m3 0h39m13 0h3m5 0h16m5 0h7m2 0h6m1 0h5m3 0h6m6 0h15m6 0h1m5 0h7m8 0h3m1 0h8m16 0h3m2 0h1m98 0h1m9 0h2m21 0h7m18 0h2M39 172h3m8 0h18m43 0h3m44 0h1m2 0h27m1 0h14m1 0h8m3 0h3m16 0h9m2 0h1m2 0h10m9 0h20m1 0h3m2 0h28m9 0h29m1 0h21m2 0h10m3 0h27m5 0h1m2 0h4m3 0h6m2 0h4m3 0h3m6 0h5m1 0h2m1 0h8m6 0h1m3 0h5m9 0h1m9 0h3m2 0h6m6 0h1m2 0h18m1 0h2m6 0h4m2 0h6m12 0h7m45 0h2m42 0h1M32 175h10m5 0h1m2 0h6m3 0h4m29 0h1m6 0h2m7 0h3m51 0h18m2 0h42m1 0h15m2 0h15m1 0h6m12 0h11m4 0h6m3 0h24m6 0h3m3 0h3m17 0h10m2 0h24m3 0h7m2 0h9m1 0h12m2 0h21m1 0h2m15 0h9m3 0h3m9 0h1m2 0h3m10 0h5m9 0h4m6 0h18m3 0h2m1 0h8m28 0h3M24 178h3m3 0h9m2 0h4m9 0h6m2 0h3m6 0h6m87 0h40m3 0h6m2 0h6m7 0h3m12 0h9m2 0h4m5 0h1m3 0h17m7 0h2m1 0h2m1 0h6m5 0h21m15 0h9m1 0h3m5 0h21m3 0h16m2 0h13m2 0h6m7 0h6m2 0h6m3 0h6m3 0h1m2 0h3m1 0h21m2 0h12m6 0h1m2 0h1m5 0h4m3 0h2m3 0h3m4 0h6m5 0h7m3 0h5m4 0h21m71 0h1M32 181h4m2 0h21m1 0h9m6 0h5m66 0h3m7 0h2m1 0h57m2 0h3m3 0h3m3 0h1m6 0h2m1 0h6m2 0h1m8 0h1m3 0h12m2 0h1m9 0h2m25 0h11m22 0h2m3 0h9m4 0h14m4 0h6m14 0h24m1 0h11m7 0h2m1 0h6m2 0h1m2 0h7m3 0h11m3 0h6m1 0h3m2 0h6m1 0h3m3 0h5m1 0h2m1 0h3m6 0h2m6 0h1m5 0h6m1 0h41m12 0h1M33 184h5m3 0h7m9 0h18m24 0h2m18 0h4m24 0h2m10 0h5m3 0h1m2 0h24m3 0h4m2 0h13m2 0h6m3 0h4m2 0h1m3 0h3m3 0h2m1 0h2m10 0h2m1 0h11m4 0h3m8 0h4m2 0h1m5 0h3m13 0h3m6 0h2m4 0h2m1 0h2m9 0h10m3 0h6m5 0h16m2 0h1m5 0h6m3 0h4m3 0h3m2 0h7m2 0h1m2 0h12m7 0h2m1 0h2m1 0h2m6 0h36m1 0h2m9 0h7m23 0h49m2 0h7m18 0h2m69 0h1m14 0h1m45 0h2M33 187h2m3 0h9m4 0h2m4 0h3m3 0h8m48 0h1m18 0h2m1 0h5m3 0h10m5 0h1m2 0h1m2 0h19m6 0h6m3 0h6m11 0h4m2 0h18m1 0h3m2 0h3m4 0h3m2 0h3m3 0h4m6 0h5m4 0h2m7 0h3m47 0h28m2 0h9m9 0h4m2 0h4m6 0h14m4 0h3m5 0h1m5 0h39m1 0h2m7 0h3m2 0h3m7 0h2m6 0h1m9 0h5m4 0h17m4 0h9m9 0h20m4 0h2m4 0h2m28 0h2m43 0h2m22 0h2m10 0h2M39 190h3m2 0h3m3 0h3m1 0h11m12 0h3m18 0h1m36 0h3m5 0h12m6 0h1m2 0h16m3 0h9m3 0h14m16 0h3m3 0h2m7 0h2m9 0h1m15 0h3m3 0h2m1 0h2m1 0h6m2 0h3m58 0h5m4 0h2m1 0h23m16 0h26m1 0h2m9 0h1m5 0h4m5 0h10m5 0h6m4 0h11m1 0h6m2 0h3m4 0h5m1 0h2m3 0h1m6 0h9m2 0h1m2 0h6m1 0h9m6 0h8m3 0h7m2 0h4m2 0h7m2 0h3m3 0h4m101 0h1m18 0h2m15 0h10M36 193h2m4 0h6m5 0h1m2 0h1m47 0h3m22 0h2m6 0h3m4 0h9m3 0h5m10 0h3m5 0h6m3 0h18m3 0h10m3 0h2m4 0h6m14 0h3m21 0h1m2 0h1m62 0h3m10 0h6m2 0h15m1 0h2m3 0h6m10 0h2m9 0h1m2 0h6m1 0h3m6 0h2m15 0h10m2 0h1m2 0h15m7 0h5m1 0h33m2 0h4m12 0h2m4 0h2m1 0h2m4 0h6m9 0h2m10 0h26m3 0h4m128 0h12m30 0h1M47 196h3m3 0h1m9 0h2m54 0h1m2 0h9m1 0h14m1 0h12m3 0h9m2 0h4m9 0h29m3 0h3m7 0h2m7 0h8m7 0h2m25 0h2m10 0h2m25 0h2m30 0h4m3 0h11m6 0h1m3 0h2m1 0h11m1 0h9m3 0h3m9 0h3m18 0h20m1 0h15m6 0h5m3 0h1m9 0h2m1 0h3m3 0h2m1 0h3m2 0h4m5 0h1m9 0h2m15 0h1m2 0h7m6 0h6m2 0h6m1 0h5m4 0h9m3 0h2m1 0h2m21 0h1m14 0h1m89 0h7m2 0h12m22 0h11M56 199h1m3 0h8m57 0h16m2 0h16m3 0h14m1 0h3m6 0h3m3 0h21m3 0h6m17 0h3m16 0h9m15 0h8m1 0h2m4 0h2m25 0h2m21 0h9m3 0h1m6 0h5m1 0h3m8 0h4m5 0h3m1 0h6m2 0h3m1 0h2m7 0h35m9 0h13m3 0h9m6 0h6m5 0h4m2 0h10m3 0h2m6 0h3m6 0h4m6 0h24m2 0h4m3 0h2m1 0h3m5 0h4m9 0h3m29 0h1m111 0h9m12 0h12m2 0h1m2 0h7m2 0h1M59 202h3m1 0h5m1 0h3m51 0h9m3 0h8m7 0h5m4 0h26m4 0h2m1 0h2m1 0h15m3 0h5m1 0h3m32 0h4m2 0h9m13 0h3m3 0h5m25 0h2m3 0h1m3 0h2m12 0h3m9 0h6m7 0h11m3 0h6m1 0h2m4 0h2m6 0h1m2 0h4m2 0h7m2 0h33m12 0h1m3 0h15m2 0h4m2 0h4m3 0h2m28 0h20m3 0h3m4 0h3m5 0h22m3 0h2m3 0h13m6 0h2m6 0h4m3 0h3m24 0h3m5 0h1m2 0h4m75 0h3m2 0h18m4 0h2m1 0h6m5 0h12M59 205h1m2 0h1m47 0h6m25 0h2m12 0h6m1 0h2m1 0h2m3 0h3m1 0h5m10 0h6m2 0h7m3 0h2m7 0h2m3 0h1m6 0h2m21 0h7m8 0h1m5 0h1m2 0h3m1 0h11m31 0h8m1 0h6m2 0h3m1 0h2m3 0h3m4 0h6m5 0h7m6 0h12m6 0h15m5 0h30m1 0h9m12 0h9m9 0h3m6 0h2m6 0h13m3 0h3m2 0h10m2 0h10m8 0h4m3 0h2m3 0h18m1 0h2m3 0h10m2 0h10m2 0h3m1 0h26m16 0h2m81 0h1m2 0h33m1 0h18m5 0h12M72 208h2m27 0h1m3 0h2m37 0h3m3 0h9m3 0h5m3 0h1m2 0h13m2 0h1m2 0h13m5 0h1m2 0h4m9 0h2m24 0h3m6 0h1m6 0h2m1 0h3m2 0h1m2 0h13m35 0h4m14 0h1m2 0h1m2 0h1m2 0h1m2 0h9m1 0h5m1 0h21m3 0h2m1 0h12m6 0h2m7 0h29m12 0h12m7 0h24m2 0h9m1 0h3m5 0h1m2 0h1m2 0h3m1 0h12m6 0h3m5 0h1m3 0h2m3 0h9m6 0h1m5 0h6m1 0h2m1 0h2m7 0h6m2 0h1m12 0h6m2 0h1m2 0h3m34 0h2m40 0h2m13 0h8m1 0h41m3 0h9m1 0h14m9 0h1m2 0h1m11 0h1m6 0h3M108 211h2m9 0h1m23 0h4m2 0h13m2 0h1m2 0h1m3 0h2m3 0h4m14 0h1m2 0h1m3 0h6m5 0h1m2 0h1m8 0h1m5 0h3m7 0h3m5 0h1m3 0h2m3 0h7m6 0h6m3 0h2m1 0h5m1 0h2m6 0h1m35 0h1m5 0h4m2 0h1m2 0h3m1 0h6m2 0h3m4 0h15m2 0h1m3 0h23m7 0h2m1 0h3m2 0h9m1 0h21m2 0h24m3 0h9m3 0h1m3 0h6m2 0h1m2 0h4m6 0h2m3 0h1m5 0h4m2 0h1m2 0h1m2 0h6m1 0h3m2 0h12m1 0h21m2 0h3m4 0h5m12 0h7m3 0h2m10 0h17m10 0h2m78 0h1m2 0h6m1 0h5m3 0h66m16 0h6M89 214h1m2 0h1m8 0h6m7 0h5m6 0h1m14 0h1m2 0h10m5 0h13m2 0h4m2 0h1m3 0h12m2 0h1m27 0h2m19 0h3m3 0h20m1 0h8m3 0h4m2 0h1m3 0h3m3 0h2m3 0h1m6 0h5m3 0h4m8 0h9m1 0h23m3 0h18m1 0h2m1 0h2m1 0h17m9 0h1m2 0h6m1 0h3m2 0h1m5 0h3m4 0h6m9 0h32m1 0h8m18 0h4m2 0h24m1 0h5m4 0h30m2 0h6m3 0h15m1 0h3m2 0h18m6 0h1m2 0h1m2 0h18m4 0h2m13 0h2m55 0h80m3 0h1m2 0h1m2 0h1m2 0h12m4 0h2M66 217h2m18 0h1m2 0h1m8 0h6m1 0h3m6 0h5m28 0h5m6 0h9m3 0h6m3 0h3m1 0h12m11 0h1m17 0h1m21 0h2m9 0h7m6 0h2m1 0h3m2 0h15m22 0h8m4 0h15m2 0h1m2 0h3m3 0h16m2 0h7m9 0h2m6 0h7m2 0h10m2 0h12m1 0h3m5 0h1m8 0h3m4 0h9m2 0h10m2 0h1m2 0h18m1 0h20m1 0h39m5 0h7m2 0h24m4 0h8m1 0h14m1 0h11m3 0h43m2 0h1m2 0h13m11 0h10m2 0h7m3 0h3m12 0h2m1 0h77m3 0h3m3 0h13m2 0h7M60 220h2m22 0h5m4 0h8m4 0h2m16 0h2m1 0h9m14 0h1m2 0h1m6 0h18m3 0h17m6 0h3m1 0h9m2 0h6m3 0h4m15 0h2m6 0h1m14 0h1m2 0h21m12 0h1m2 0h27m10 0h11m4 0h17m1 0h2m1 0h3m9 0h5m1 0h5m3 0h4m8 0h1m3 0h3m6 0h15m6 0h48m3 0h6m2 0h13m15 0h2m4 0h3m2 0h4m3 0h11m1 0h27m2 0h84m1 0h2m6 0h9m3 0h9m9 0h1m2 0h1m2 0h3m16 0h3m2 0h45m1 0h14m1 0h3m3 0h15m2 0h13m2 0h1m2 0h3M87 223h6m2 0h1m2 0h3m1 0h3m2 0h1m24 0h2m15 0h3m1 0h2m1 0h2m1 0h3m6 0h2m6 0h13m2 0h4m2 0h1m2 0h9m3 0h13m27 0h5m7 0h5m4 0h6m2 0h7m6 0h2m4 0h2m6 0h12m1 0h11m1 0h15m2 0h24m1 0h3m2 0h1m2 0h7m3 0h9m2 0h10m3 0h2m1 0h8m3 0h3m1 0h8m1 0h5m3 0h3m3 0h9m7 0h53m22 0h15m8 0h4m2 0h24m4 0h3m2 0h99m12 0h4m9 0h45m2 0h60m1 0h6m2 0h9M86 226h1m5 0h1m2 0h10m2 0h6m6 0h1m14 0h3m6 0h3m10 0h2m1 0h5m3 0h16m3 0h5m3 0h3m3 0h4m2 0h13m36 0h15m3 0h2m1 0h9m2 0h7m2 0h3m1 0h5m3 0h3m4 0h2m3 0h3m4 0h12m2 0h6m1 0h9m12 0h3m3 0h14m3 0h16m3 0h3m12 0h11m1 0h2m1 0h5m6 0h19m2 0h4m2 0h1m5 0h1m5 0h10m5 0h18m10 0h3m3 0h6m2 0h42m1 0h15m2 0h13m2 0h10m2 0h1m3 0h12m15 0h8m3 0h15m7 0h2m19 0h9m3 0h14m3 0h1m2 0h24m1 0h69m3 0h8M80 229h3m13 0h14m1 0h2m4 0h3m9 0h3m5 0h1m17 0h4m3 0h2m6 0h13m2 0h3m6 0h4m5 0h12m9 0h1m9 0h2m12 0h4m2 0h7m5 0h3m7 0h2m3 0h4m5 0h10m3 0h27m3 0h26m4 0h2m1 0h6m3 0h20m1 0h27m2 0h4m12 0h20m4 0h12m3 0h3m2 0h22m2 0h15m15 0h1m5 0h6m1 0h14m1 0h2m7 0h44m3 0h19m2 0h39m3 0h7m12 0h2m13 0h3m5 0h72m1 0h15m3 0h26m1 0h14m1 0h2M84 232h6m6 0h2m1 0h2m9 0h1m9 0h2m6 0h1m2 0h9m3 0h3m1 0h3m2 0h4m17 0h7m3 0h2m3 0h3m3 0h4m6 0h5m1 0h3m3 0h3m18 0h8m4 0h9m3 0h2m1 0h5m1 0h2m7 0h5m1 0h5m3 0h4m2 0h30m4 0h5m3 0h1m2 0h18m1 0h2m4 0h42m2 0h12m1 0h2m3 0h1m9 0h2m4 0h11m1 0h3m2 0h4m5 0h10m2 0h45m15 0h40m3 0h11m1 0h39m2 0h54m7 0h2m22 0h6m2 0h19m3 0h12m2 0h6m1 0h21m3 0h27m8 0h22m3 0h3M78 235h2m12 0h3m1 0h2m6 0h1m11 0h1m5 0h1m3 0h3m3 0h8m1 0h6m14 0h1m2 0h21m9 0h4m5 0h1m23 0h1m27 0h12m2 0h7m2 0h1m2 0h10m2 0h42m1 0h77m1 0h51m2 0h16m8 0h3m1 0h5m4 0h9m2 0h19m8 0h39m1 0h15m5 0h93m3 0h3m3 0h1m20 0h3m6 0h28m2 0h49m3 0h2m1 0h6m2 0h4m6 0h12m2 0h1m2 0h6m1 0h3M92 238h6m15 0h1m2 0h1m2 0h4m8 0h1m3 0h5m13 0h3m2 0h3m1 0h5m3 0h10m3 0h3m3 0h11m10 0h5m4 0h3m33 0h6m6 0h14m4 0h5m3 0h42m3 0h33m3 0h10m2 0h15m1 0h23m1 0h27m2 0h37m3 0h21m9 0h3m2 0h36m9 0h31m2 0h27m3 0h1m2 0h10m2 0h43m11 0h6m6 0h3m12 0h19m2 0h106m3 0h2M75 241h2m12 0h4m3 0h3m2 0h3m7 0h2m16 0h3m11 0h4m2 0h25m2 0h1m14 0h3m1 0h2m16 0h3m11 0h7m9 0h3m2 0h1m11 0h4m2 0h4m3 0h8m3 0h6m1 0h3m5 0h7m3 0h8m1 0h3m2 0h46m5 0h46m2 0h18m3 0h15m1 0h3m9 0h6m2 0h1m2 0h7m3 0h26m3 0h4m2 0h45m3 0h109m5 0h9m9 0h3m3 0h1m3 0h6m14 0h33m1 0h83m15 0h3M84 244h2m6 0h15m7 0h2m19 0h3m2 0h3m1 0h29m1 0h2m1 0h2m1 0h5m7 0h2m10 0h5m1 0h8m27 0h1m24 0h8m3 0h7m2 0h1m2 0h1m2 0h12m3 0h1m2 0h6m3 0h9m3 0h4m2 0h72m1 0h38m6 0h1m5 0h1m3 0h18m2 0h1m2 0h16m2 0h3m4 0h6m2 0h1m11 0h10m2 0h61m2 0h57m1 0h5m4 0h8m3 0h12m6 0h1m3 0h2m1 0h2m3 0h1m2 0h6m12 0h48m1 0h5m1 0h8m1 0h45m2 0h6m1 0h8M90 247h17m1 0h8m4 0h3m9 0h3m2 0h3m1 0h12m5 0h13m2 0h4m2 0h1m12 0h6m2 0h1m2 0h3m1 0h5m1 0h9m36 0h2m1 0h8m1 0h8m15 0h12m1 0h3m2 0h1m3 0h3m2 0h16m2 0h4m2 0h12m3 0h7m2 0h7m8 0h12m1 0h2m3 0h6m1 0h29m1 0h15m9 0h23m1 0h3m2 0h9m1 0h3m5 0h1m2 0h9m18 0h108m1 0h21m3 0h3m2 0h1m2 0h3m1 0h2m3 0h12m13 0h3m2 0h3m3 0h7m5 0h13m2 0h10m2 0h27m1 0h2m4 0h50m9 0h1m11 0h1m6 0h3M98 250h3m1 0h3m5 0h10m18 0h2m1 0h3m3 0h3m2 0h13m3 0h2m6 0h6m3 0h10m15 0h2m1 0h5m1 0h6m2 0h1m2 0h1m27 0h2m3 0h3m10 0h6m2 0h4m2 0h1m8 0h13m3 0h9m2 0h3m4 0h5m1 0h12m2 0h1m3 0h20m3 0h3m1 0h11m6 0h1m6 0h8m1 0h2m1 0h5m1 0h9m3 0h17m4 0h3m3 0h2m6 0h1m2 0h1m3 0h2m4 0h2m10 0h6m3 0h9m18 0h2m6 0h1m2 0h124m3 0h2m3 0h6m4 0h20m9 0h1m15 0h2m3 0h1m3 0h44m1 0h44m1 0h15m27 0h6M95 253h6m7 0h11m1 0h2m7 0h3m2 0h3m1 0h9m2 0h12m1 0h11m4 0h3m2 0h10m14 0h7m5 0h10m3 0h2m1 0h2m4 0h2m28 0h8m3 0h10m2 0h4m2 0h18m1 0h3m5 0h18m1 0h6m6 0h41m3 0h9m4 0h2m9 0h6m1 0h2m1 0h12m2 0h13m3 0h2m3 0h4m3 0h9m2 0h1m3 0h3m2 0h12m31 0h5m4 0h3m8 0h7m3 0h65m1 0h38m6 0h4m11 0h12m4 0h5m3 0h4m8 0h1m5 0h34m3 0h11m3 0h15m3 0h33m1 0h2m6 0h4M101 256h1m8 0h7m6 0h2m3 0h3m1 0h12m3 0h6m2 0h6m3 0h7m2 0h7m14 0h6m3 0h3m4 0h2m4 0h8m7 0h3m2 0h1m23 0h4m2 0h3m4 0h3m6 0h3m6 0h12m3 0h3m14 0h16m2 0h6m1 0h11m3 0h7m2 0h22m2 0h4m5 0h21m1 0h17m1 0h3m2 0h1m2 0h12m10 0h2m9 0h22m2 0h6m1 0h2m1 0h2m16 0h12m2 0h3m15 0h1m2 0h6m3 0h4m3 0h5m1 0h30m2 0h48m1 0h3m3 0h3m2 0h3m6 0h1m2 0h27m10 0h38m1 0h8m3 0h45M80 259h3m31 0h2m6 0h3m4 0h21m3 0h15m11 0h3m1 0h8m1 0h9m2 0h4m2 0h10m2 0h3m30 0h1m6 0h15m2 0h7m3 0h2m3 0h1m2 0h3m4 0h3m2 0h1m3 0h2m3 0h3m3 0h15m10 0h11m3 0h4m6 0h23m1 0h56m1 0h29m4 0h2m3 0h21m3 0h16m5 0h18m7 0h3m18 0h2m4 0h2m4 0h11m4 0h2m1 0h2m1 0h2m1 0h2m3 0h37m3 0h14m4 0h2m4 0h2m4 0h2m10 0h21m2 0h57m1 0h12m3 0h23m55 0h5M101 262h9m7 0h11m10 0h6m2 0h1m2 0h1m3 0h3m2 0h1m2 0h7m8 0h3m3 0h6m4 0h2m1 0h5m1 0h11m1 0h14m22 0h3m8 0h3m4 0h6m2 0h1m3 0h8m3 0h4m3 0h2m3 0h1m8 0h1m2 0h22m5 0h1m14 0h12m6 0h1m5 0h3m1 0h2m7 0h3m8 0h21m3 0h33m6 0h6m3 0h1m12 0h2m1 0h26m1 0h3m3 0h6m3 0h21m2 0h3m28 0h2m7 0h2m27 0h24m1 0h26m3 0h1m11 0h6m1 0h20m1 0h56m1 0h6m11 0h1m3 0h20m45 0h1m6 0h2m13 0h2M89 265h3m6 0h1m5 0h13m6 0h2m9 0h1m3 0h2m9 0h1m2 0h1m2 0h1m2 0h15m3 0h3m9 0h1m8 0h4m3 0h9m2 0h7m2 0h10m2 0h1m2 0h16m12 0h6m2 0h9m6 0h3m16 0h3m2 0h13m15 0h3m3 0h2m7 0h18m2 0h1m2 0h4m2 0h4m8 0h1m2 0h54m3 0h4m9 0h3m3 0h2m12 0h22m2 0h10m2 0h19m2 0h4m5 0h3m13 0h3m11 0h6m1 0h2m28 0h5m1 0h2m1 0h2m1 0h44m7 0h12m8 0h12m1 0h3m2 0h16m2 0h1m2 0h6m1 0h3m2 0h1m6 0h26m3 0h3m1 0h2m1 0h9m5 0h1m3 0h2M101 268h1m2 0h7m5 0h1m14 0h1m2 0h1m6 0h6m3 0h2m1 0h12m5 0h3m9 0h1m20 0h22m3 0h2m1 0h9m2 0h1m2 0h18m4 0h8m3 0h1m12 0h3m5 0h3m4 0h17m3 0h3m1 0h6m12 0h3m3 0h11m4 0h17m1 0h9m2 0h12m1 0h2m3 0h3m1 0h27m3 0h2m13 0h3m18 0h59m3 0h4m2 0h3m6 0h6m12 0h3m1 0h9m23 0h1m5 0h4m14 0h3m1 0h38m1 0h5m1 0h11m9 0h1m15 0h26m1 0h2m1 0h3m6 0h18m9 0h6m2 0h6m1 0h5m42 0h1M113 271h1m2 0h1m5 0h3m9 0h6m12 0h16m3 0h2m1 0h2m6 0h3m1 0h2m3 0h1m23 0h3m1 0h5m9 0h3m3 0h4m2 0h4m2 0h7m2 0h4m3 0h15m9 0h11m3 0h6m1 0h11m1 0h5m6 0h3m1 0h6m3 0h39m2 0h10m3 0h2m1 0h5m1 0h30m2 0h3m13 0h3m3 0h3m2 0h9m6 0h36m1 0h5m3 0h22m2 0h3m1 0h2m4 0h6m5 0h1m3 0h2m1 0h14m6 0h1m12 0h3m2 0h3m24 0h3m1 0h56m10 0h3m8 0h22m5 0h1m3 0h3m18 0h3m2 0h3m6 0h3m1 0h3m6 0h2M120 274h8m4 0h2m1 0h8m10 0h3m6 0h2m3 0h1m2 0h1m2 0h3m1 0h17m1 0h2m6 0h1m5 0h3m1 0h6m5 0h3m3 0h1m2 0h6m1 0h5m1 0h3m2 0h22m2 0h3m1 0h2m15 0h1m3 0h2m3 0h10m3 0h2m1 0h3m14 0h7m2 0h13m2 0h22m3 0h8m1 0h2m1 0h6m3 0h8m1 0h6m2 0h7m12 0h3m8 0h4m5 0h1m2 0h9m3 0h1m3 0h14m4 0h8m6 0h37m2 0h6m13 0h2m9 0h12m52 0h2m4 0h14m1 0h18m2 0h16m30 0h11m4 0h3m6 0h2m1 0h5m1 0h3m5 0h1m6 0h8m1 0h5M96 277h3m21 0h6m2 0h12m1 0h2m3 0h3m3 0h1m8 0h1m9 0h9m3 0h17m4 0h12m3 0h8m3 0h31m3 0h18m2 0h1m3 0h14m6 0h9m1 0h2m6 0h3m4 0h3m3 0h8m1 0h20m1 0h18m2 0h34m2 0h13m3 0h6m3 0h3m2 0h1m11 0h3m4 0h9m2 0h1m5 0h7m2 0h4m11 0h3m6 0h31m5 0h4m2 0h3m1 0h5m7 0h9m2 0h6m6 0h1m48 0h2m1 0h54m2 0h3m10 0h2m16 0h9m2 0h1m14 0h3m10 0h5m9 0h3M96 280h3m36 0h2m3 0h1m2 0h1m5 0h3m6 0h13m3 0h27m5 0h10m6 0h3m2 0h1m2 0h18m1 0h6m6 0h17m1 0h3m2 0h3m1 0h3m2 0h7m2 0h4m11 0h1m2 0h1m12 0h6m2 0h3m1 0h24m2 0h33m4 0h21m2 0h3m3 0h4m5 0h1m6 0h2m3 0h1m15 0h3m2 0h1m2 0h4m6 0h27m5 0h46m8 0h22m3 0h8m43 0h56m15 0h1m9 0h2m4 0h2m1 0h9m2 0h6m1 0h2m13 0h5m9 0h1m5 0h1m3 0h2m1 0h2m28 0h2M135 283h15m11 0h19m2 0h15m9 0h7m6 0h3m2 0h7m2 0h6m1 0h8m1 0h3m3 0h5m1 0h15m2 0h19m2 0h9m3 0h7m2 0h6m3 0h3m3 0h1m6 0h2m1 0h6m2 0h19m2 0h3m1 0h42m3 0h3m3 0h11m4 0h3m2 0h7m2 0h15m1 0h12m2 0h4m3 0h23m1 0h5m1 0h80m4 0h2m21 0h1m20 0h30m1 0h36m2 0h1m11 0h6m9 0h6m3 0h1m5 0h4m5 0h9M146 286h3m9 0h4m2 0h4m2 0h3m1 0h8m7 0h2m3 0h6m1 0h3m11 0h1m15 0h6m2 0h1m2 0h12m3 0h4m2 0h1m2 0h4m2 0h12m3 0h7m6 0h9m9 0h2m1 0h11m9 0h4m8 0h34m5 0h10m2 0h10m6 0h5m1 0h12m2 0h1m3 0h5m21 0h3m7 0h8m1 0h6m3 0h3m2 0h12m4 0h18m2 0h43m2 0h1m11 0h7m2 0h1m32 0h6m3 0h3m3 0h4m2 0h3m1 0h6m2 0h10m2 0h40m17 0h1m14 0h6m28 0h2m3 0h1m3 0h6m8 0h3M149 289h1m2 0h1m11 0h3m1 0h3m2 0h15m1 0h6m2 0h1m2 0h1m2 0h1m5 0h1m21 0h9m5 0h1m2 0h1m2 0h1m8 0h4m2 0h6m1 0h5m1 0h6m2 0h7m3 0h2m6 0h1m2 0h10m2 0h1m8 0h7m2 0h9m1 0h2m9 0h9m1 0h11m1 0h11m1 0h15m3 0h2m4 0h3m2 0h7m3 0h2m1 0h3m5 0h1m15 0h2m1 0h2m1 0h9m2 0h3m3 0h1m3 0h5m10 0h2m1 0h9m2 0h6m3 0h13m3 0h33m23 0h9m40 0h2m1 0h5m3 0h1m3 0h63m2 0h3m1 0h3m5 0h1m12 0h14m3 0h1m9 0h3m2 0h1m6 0h3M150 292h3m2 0h4m5 0h22m2 0h7m2 0h10m27 0h3m6 0h3m15 0h6m3 0h8m4 0h2m7 0h3m2 0h7m6 0h5m4 0h2m10 0h12m2 0h1m3 0h14m1 0h6m2 0h33m1 0h3m3 0h6m6 0h18m3 0h2m10 0h6m2 0h13m2 0h1m2 0h4m3 0h2m4 0h21m2 0h1m2 0h3m4 0h47m6 0h3m12 0h6m28 0h3m2 0h1m2 0h1m2 0h1m14 0h49m2 0h18m6 0h4m17 0h3m4 0h2M144 295h2m10 0h2m1 0h2m3 0h6m1 0h2m3 0h1m5 0h1m2 0h1m2 0h7m3 0h8m1 0h5m4 0h2m4 0h2m1 0h11m3 0h1m2 0h1m15 0h17m12 0h6m3 0h81m4 0h14m1 0h5m3 0h6m1 0h5m6 0h1m5 0h9m10 0h2m3 0h1m2 0h22m5 0h6m4 0h3m8 0h7m5 0h3m1 0h2m1 0h2m1 0h6m3 0h41m4 0h2m6 0h4m3 0h2m24 0h1m9 0h3m14 0h1m2 0h52m3 0h3m3 0h3m3 0h5m6 0h3m1 0h3m2 0h1m8 0h1m5 0h1m2 0h1m8 0h3M164 298h3m1 0h5m7 0h2m1 0h9m2 0h3m1 0h2m1 0h6m6 0h9m5 0h12m3 0h1m2 0h1m17 0h1m3 0h2m16 0h5m3 0h1m15 0h2m6 0h21m7 0h11m7 0h2m1 0h3m2 0h27m1 0h2m3 0h4m5 0h3m1 0h8m1 0h2m1 0h8m6 0h4m8 0h4m3 0h12m3 0h9m2 0h3m1 0h2m4 0h2m7 0h3m6 0h3m6 0h2m1 0h44m3 0h3m10 0h18m11 0h1m2 0h4m5 0h4m3 0h3m3 0h2m1 0h54m3 0h2m6 0h16m3 0h2m4 0h14m1 0h2m1 0h2m27 0h1M170 301h4m17 0h3m1 0h12m6 0h14m4 0h3m2 0h1m6 0h14m6 0h3m1 0h5m1 0h2m1 0h2m1 0h8m3 0h4m3 0h3m6 0h63m2 0h24m3 0h4m23 0h1m2 0h3m4 0h2m1 0h6m5 0h4m2 0h7m3 0h2m6 0h1m8 0h7m5 0h7m3 0h2m1 0h5m9 0h4m2 0h18m6 0h21m4 0h2m3 0h1m8 0h4m2 0h1m3 0h21m2 0h1m14 0h3m1 0h80m1 0h3m3 0h2m4 0h11m1 0h5m15 0h3M144 304h2m46 0h3m3 0h2m9 0h13m3 0h3m11 0h12m1 0h24m8 0h6m4 0h3m2 0h1m11 0h13m2 0h15m1 0h51m6 0h5m3 0h3m9 0h13m2 0h3m1 0h3m2 0h6m3 0h6m3 0h3m3 0h12m13 0h8m1 0h18m2 0h1m3 0h2m4 0h23m1 0h12m2 0h3m25 0h30m12 0h26m1 0h20m1 0h6m3 0h9m2 0h1m2 0h1m2 0h10m3 0h3m3 0h14m1 0h2m1 0h3m6 0h2m7 0h2m3 0h4m2 0h1M173 307h1m41 0h3m1 0h2m3 0h1m2 0h4m3 0h5m1 0h6m9 0h5m1 0h5m3 0h1m3 0h5m3 0h3m1 0h8m7 0h6m3 0h15m6 0h5m13 0h20m1 0h2m6 0h16m11 0h1m9 0h3m2 0h4m5 0h16m2 0h10m5 0h1m5 0h7m3 0h5m9 0h7m8 0h15m1 0h50m6 0h4m14 0h6m1 0h2m1 0h26m1 0h21m6 0h2m1 0h6m3 0h6m3 0h3m3 0h8m16 0h2m1 0h2m6 0h1m2 0h27m4 0h2m13 0h2m3 0h3m1 0h6M159 310h2m52 0h3m3 0h6m12 0h2m1 0h12m2 0h24m4 0h9m6 0h29m1 0h2m4 0h2m12 0h7m2 0h1m2 0h4m3 0h6m2 0h3m7 0h5m36 0h13m3 0h11m1 0h36m2 0h1m5 0h4m3 0h2m4 0h6m2 0h1m2 0h49m11 0h1m2 0h1m8 0h1m2 0h45m4 0h2m3 0h7m15 0h6m11 0h4m2 0h1m14 0h1m5 0h25m6 0h5M216 313h2m3 0h1m9 0h2m7 0h2m4 0h3m3 0h5m3 0h7m3 0h27m2 0h1m3 0h18m26 0h1m3 0h23m1 0h5m3 0h3m6 0h1m15 0h2m12 0h1m2 0h21m3 0h1m2 0h3m1 0h9m2 0h1m5 0h13m2 0h1m2 0h10m11 0h4m14 0h40m2 0h9m10 0h47m1 0h3m5 0h1m20 0h6m13 0h2m10 0h3m2 0h1m11 0h6m3 0h1m2 0h15m1 0h6m18 0h5M215 316h1m3 0h2m24 0h12m1 0h2m3 0h1m3 0h9m6 0h5m4 0h3m2 0h3m4 0h15m3 0h2m4 0h6m3 0h2m4 0h2m1 0h2m9 0h1m2 0h15m7 0h6m5 0h4m3 0h5m1 0h6m5 0h1m2 0h7m2 0h9m1 0h6m6 0h14m7 0h2m1 0h3m2 0h1m2 0h1m2 0h7m3 0h2m1 0h5m3 0h3m1 0h8m12 0h27m3 0h19m2 0h1m6 0h47m9 0h3m3 0h1m17 0h6m1 0h2m3 0h6m12 0h1m2 0h1m11 0h6m4 0h15m5 0h1m5 0h3m6 0h4m17 0h1M198 319h2m4 0h2m15 0h1m9 0h2m19 0h20m4 0h2m3 0h1m2 0h1m5 0h1m2 0h12m1 0h2m1 0h21m8 0h1m6 0h3m3 0h3m3 0h11m3 0h4m2 0h15m3 0h13m9 0h11m1 0h8m3 0h1m2 0h3m1 0h2m1 0h9m3 0h2m1 0h3m9 0h3m5 0h30m9 0h1m5 0h37m8 0h18m1 0h38m15 0h3m9 0h10m5 0h1m3 0h8m6 0h22m2 0h15m4 0h5m3 0h10m9 0h2M215 322h1m33 0h3m5 0h3m1 0h15m2 0h1m8 0h6m4 0h2m1 0h6m3 0h2m1 0h21m3 0h5m6 0h6m1 0h9m2 0h1m2 0h10m11 0h19m3 0h33m3 0h2m1 0h29m6 0h13m8 0h40m12 0h2m1 0h5m4 0h6m2 0h18m1 0h36m11 0h3m1 0h2m3 0h18m3 0h1m8 0h9m3 0h1m2 0h57m3 0h1m23 0h6M194 325h1m57 0h2m6 0h1m5 0h6m13 0h8m3 0h10m2 0h1m2 0h4m2 0h12m1 0h3m2 0h9m9 0h9m3 0h16m2 0h1m5 0h7m9 0h14m1 0h21m12 0h15m2 0h3m9 0h15m9 0h21m1 0h2m3 0h21m1 0h5m4 0h3m12 0h24m2 0h27m12 0h18m1 0h32m1 0h42m2 0h1m2 0h3m6 0h3m1 0h3m21 0h6M243 328h3m11 0h3m6 0h4m9 0h9m2 0h1m6 0h5m1 0h2m9 0h1m2 0h4m2 0h3m1 0h5m1 0h9m5 0h3m6 0h1m5 0h3m1 0h6m5 0h1m5 0h3m13 0h14m3 0h9m1 0h15m8 0h1m3 0h3m2 0h6m4 0h2m1 0h2m10 0h3m2 0h9m4 0h3m2 0h4m2 0h13m12 0h2m1 0h2m1 0h11m1 0h5m1 0h2m12 0h3m6 0h4m6 0h2m1 0h29m1 0h5m1 0h8m1 0h69m2 0h25m2 0h16M200 331h1m48 0h2m30 0h1m2 0h3m1 0h3m3 0h8m1 0h3m2 0h3m4 0h5m10 0h3m5 0h4m3 0h3m21 0h3m3 0h5m1 0h3m5 0h3m13 0h53m10 0h3m5 0h1m6 0h5m1 0h12m2 0h4m3 0h17m3 0h10m5 0h1m8 0h12m9 0h1m17 0h46m2 0h9m1 0h2m1 0h2m3 0h1m2 0h42m3 0h13m5 0h16m3 0h5m3 0h1M275 334h1m2 0h1m2 0h1m5 0h3m1 0h8m3 0h9m1 0h3m5 0h1m3 0h2m1 0h3m6 0h5m3 0h1m6 0h11m3 0h1m2 0h4m3 0h5m1 0h2m25 0h2m1 0h8m1 0h2m1 0h21m2 0h3m1 0h3m2 0h3m9 0h4m2 0h3m1 0h3m2 0h33m3 0h4m2 0h4m2 0h34m5 0h7m3 0h2m6 0h4m2 0h31m3 0h17m1 0h3m9 0h15m2 0h12m1 0h6m2 0h9m1 0h2m1 0h2m1 0h8m1 0h3m2 0h18m3 0h1M279 337h6m2 0h1m6 0h5m3 0h7m2 0h4m2 0h4m2 0h4m11 0h3m3 0h1m2 0h4m2 0h1m3 0h3m15 0h2m1 0h2m6 0h1m27 0h2m1 0h3m21 0h2m1 0h2m1 0h21m2 0h3m1 0h3m2 0h22m6 0h11m1 0h5m1 0h3m6 0h15m2 0h15m6 0h3m3 0h24m4 0h2m1 0h3m2 0h48m1 0h5m1 0h2m16 0h14m3 0h1m2 0h12m7 0h5M284 340h3m1 0h2m1 0h3m3 0h2m12 0h1m2 0h1m2 0h1m8 0h4m18 0h2m1 0h2m1 0h2m3 0h3m7 0h2m3 0h1m2 0h6m70 0h3m2 0h3m3 0h1m2 0h3m1 0h2m4 0h2m1 0h11m1 0h11m3 0h6m4 0h3m5 0h45m3 0h1m3 0h14m6 0h7m5 0h4m2 0h45m12 0h13m2 0h6m3 0h31m21 0h2M291 343h6m2 0h1m9 0h3m3 0h2m3 0h4m6 0h5m25 0h3m2 0h3m3 0h1m5 0h1m2 0h3m6 0h1m66 0h5m3 0h6m4 0h5m4 0h2m1 0h5m1 0h47m7 0h8m4 0h12m2 0h19m2 0h9m1 0h3m2 0h54m1 0h2m28 0h32m19 0h3M246 346h2m49 0h3m2 0h3m3 0h3m7 0h8m1 0h5m15 0h7m8 0h15m97 0h3m11 0h4m3 0h8m3 0h4m6 0h23m1 0h2m3 0h48m1 0h2m19 0h18m3 0h6m2 0h9m3 0h7m17 0h1m8 0h45M252 349h2m39 0h1m14 0h1m11 0h9m4 0h2m4 0h3m2 0h1m14 0h10m2 0h1m5 0h4m99 0h6m6 0h8m1 0h42m3 0h3m3 0h17m1 0h27m3 0h2m16 0h14m1 0h20m3 0h10m3 0h2m9 0h1m5 0h4m2 0h7m2 0h16m2 0h3m3 0h1m2 0h1m5 0h1M282 352h2m6 0h3m9 0h1m2 0h1m6 0h2m1 0h2m1 0h6m2 0h6m1 0h2m10 0h2m3 0h6m1 0h6m2 0h9m7 0h2m121 0h20m1 0h14m1 0h17m3 0h7m5 0h19m11 0h7m3 0h3m5 0h1m6 0h3m6 0h2m4 0h3m6 0h5m4 0h2m22 0h2m1 0h5m3 0h22m2 0h3m1 0h2M308 355h1m2 0h1m8 0h1m18 0h2m1 0h6m5 0h6m4 0h2m3 0h4m11 0h4m123 0h30m2 0h51m12 0h4m2 0h3m9 0h1m17 0h10m2 0h1m57 0h6m3 0h2M306 358h3m12 0h3m2 0h3m3 0h1m3 0h2m4 0h9m5 0h1m5 0h1m153 0h6m5 0h22m2 0h30m10 0h23m27 0h12m4 0h3M257 361h1m51 0h2m3 0h3m9 0h4m9 0h2m3 0h1m2 0h3m1 0h3m165 0h2m12 0h10m8 0h15m4 0h6m26 0h13m2 0h1m23 0h16M267 364h2m30 0h1m15 0h2m4 0h6m17 0h1m8 0h3m172 0h11m1 0h14m1 0h2m12 0h4m33 0h12m2 0h1m6 0h2m1 0h2m6 0h13M294 367h3m2 0h1m26 0h3m1 0h3m9 0h2m1 0h6m258 0h38m3 0h3M287 370h1m14 0h3m12 0h3m3 0h3m1 0h11m16 0h3m273 0h2m1 0h18M279 373h2m34 0h3m3 0h3m3 0h5m1 0h2m16 0h3m282 0h8m1 0h3M302 376h7m24 0h2m3 0h1m296 0h1m3 0h2m4 0h2M300 379h3m2 0h3m3 0h1m14 0h1m2 0h4m8 0h6m291 0h3M300 382h2m3 0h1M300 385h5" stroke="#00c5c5" stroke-width="2"/>
<path d="M410 83.5h3M360 98.5h2M362 101.5h1M392 122.5h7M341 128.5h3M432 140.5h3M440 143.5h3M287 146.5h3m189 0h4M360 149.5h8m291 0h9M267 152.5h14m79 0h8M186 155.5h3m30 0h12m38 0h10M185 158.5h4m33 0h2m261 0h6m15 0h9M195 161.5h2m79 0h9m119 0h7m27 0h9M278 164.5h4m2 0h1m17 0h6m96 0h7m27 0h8M257 167.5h9m10 0h3m2 0h1m2 0h1m249 0h3M257 170.5h9m271 0h2M258 173.5h2m61 0h8m129 0h6m1 0h2m15 0h9M333 176.5h2m1 0h2m3 0h3m130 0h2m1 0h3m2 0h9M332 179.5h12m109 0h3m2 0h1M51 185.5h5m144 0h4m182 0h1m2 0h1M200 188.5h1m14 0h6m165 0h10M341 191.5h4m42 0h9M56 194.5h1m84 0h5m73 0h9m113 0h6M54 197.5h2m124 0h3m2 0h1m156 0h5M182 200.5h3m1 0h2m319 0h5m268 0h6M446 203.5h3m31 0h6m285 0h5M335 206.5h9m135 0h7m303 0h2M333 209.5h6m2 0h1m68 0h9m63 0h1M381 212.5h2m27 0h6M297 215.5h5m108 0h3m1 0h2M120 221.5h9m261 0h2m1 0h2m169 0h9M296 224.5h1m272 0h3m204 0h4M120 227.5h5m37 0h8m189 0h3m87 0h1m2 0h1m8 0h4M147 230.5h5m12 0h6m292 0h2m120 0h1m2 0h1M597 233.5h5M113 236.5h1m2 0h1m23 0h1m2 0h6m186 0h3M132 239.5h18m26 0h3m156 0h4m33 0h2M126 242.5h11m1 0h2m1 0h2m541 0h5m72 0h1M128 245.5h1m2 0h1m155 0h1m2 0h1m89 0h3M249 248.5h9m119 0h4m14 0h6M101 251.5h3M359 257.5h3m336 0h7M360 260.5h3m335 0h1m2 0h3M258 263.5h5m289 0h3M552 266.5h3M180 269.5h3M143 275.5h4m323 0h4m2 0h1m3 0h3m185 0h3M458 278.5h3m9 0h3M681 284.5h2m1 0h2M216 287.5h5m316 0h2M539 290.5h1M251 293.5h6m253 0h2m1 0h3m213 0h2M251 296.5h6m82 0h2m1 0h5m63 0h3m99 0h4M255 299.5h8m96 0h3m150 0h4m255 0h5M449 302.5h3m93 0h1m2 0h1M335 305.5h12m151 0h2m1 0h5m18 0h10M335 308.5h13m152 0h4m164 0h4M335 311.5h4m2 0h3m1 0h2m156 0h7m6 0h12m113 0h6m21 0h4M335 314.5h7m93 0h5m61 0h11m6 0h4m2 0h6M335 317.5h1m3 0h2m139 0h5m31 0h14m184 0h2M480 320.5h3m63 0h11M497 323.5h3m1 0h5m40 0h3m2 0h6M473 326.5h10m42 0h11m54 0h4M471 329.5h3m2 0h7m44 0h3m1 0h5m10 0h6m2 0h1m158 0h1M458 332.5h9m84 0h3m27 0h3m1 0h2m61 0h5m1 0h3M567 335.5h2m1 0h2m76 0h2M461 338.5h6M461 341.5h1m2 0h3M477 344.5h2m1 0h8m22 0h6m21 0h9m6 0h8M510 347.5h5M567 350.5h5" stroke="#3636f6" stroke-width="1"/>
<path d="M410 85h3M362 100h1M392 121h4m2 0h1M341 130h4M431 139h4M440 142h3M288 145h2m189 0h1M360 148h2m301 0h2m1 0h2M270 151h2m3 0h1m84 0h8m291 0h9M221 154h1m3 0h2m3 0h1m36 0h9m2 0h4M186 157h3m30 0h12m276 0h2m3 0h1M185 160h4m5 0h1m2 0h1m2 0h3m202 0h2m33 0h1m2 0h3m40 0h2m18 0h7M276 163h9m17 0h7m93 0h9m29 0h6M258 166h3m3 0h3m9 0h8m16 0h9m131 0h6M258 169h9m267 0h5M258 172h9m54 0h9m153 0h2m1 0h3M324 175h5m129 0h3m1 0h3m11 0h3m3 0h9M332 178h12m111 0h3M332 181h1m2 0h10M201 184h2M53 187h3m145 0h3m14 0h3m165 0h9M215 190h1m2 0h3m165 0h10M141 193h3m75 0h3m2 0h1m2 0h1m113 0h6m39 0h4m2 0h3M54 196h3m164 0h7m113 0h6M182 199h4m321 0h2m274 0h2m1 0h2M483 202h2m24 0h3m258 0h4m9 0h5M446 205h1m32 0h7m249 0h3M335 208h9m67 0h6m62 0h7m305 0h3M381 211h2m1 0h3m23 0h7M297 214h3m110 0h9M297 217h5M125 220h1m266 0h1M120 223h6m2 0h1m167 0h4m266 0h6M120 226h2m43 0h2m282 0h3m324 0h1M120 229h5m24 0h3m12 0h6m108 0h3m78 0h3m99 0h4M585 232h3M113 235h3m481 0h5M140 238h1m2 0h6m186 0h3m33 0h3M132 241h11m31 0h2m1 0h2m505 0h5M126 244h9m551 0h3M249 247h9m29 0h3m85 0h8m15 0h3M101 250h1m147 0h5m1 0h3m137 0h6M101 253h4M359 256h3M359 259h3m336 0h7M258 262h2M260 265h1m291 0h3M180 268h2M476 274h3m1 0h2m186 0h1M143 277h3m324 0h1m2 0h1M470 280h4M617 283h3m63 0h1M216 286h2m1 0h3m315 0h2m142 0h2M537 289h3M249 292h2m1 0h5m469 0h5M251 295h6m253 0h5M251 298h12m75 0h7m14 0h4m47 0h3m97 0h6M257 301h3m1 0h2m249 0h4m29 0h6m222 0h3M341 304h1m107 0h3m70 0h3m2 0h4M335 307h13m150 0h8m163 0h3M335 310h12m154 0h3m2 0h4m6 0h2m124 0h2m22 0h6M335 313h6m160 0h11m4 0h14m112 0h5M335 316h1m2 0h4m95 0h1m65 0h3m3 0h1m8 0h12M480 319h5m33 0h6m1 0h5m184 0h2M498 322h8m42 0h9M497 325h9m21 0h1m2 0h3M473 328h7m2 0h1m42 0h12m51 0h6m117 0h2M459 331h8m7 0h2m1 0h2m1 0h3m63 0h8m96 0h1m2 0h1M458 334h9m114 0h6m61 0h9M566 337h6M461 340h3m1 0h2M479 343h4m2 0h1m53 0h7m8 0h4M477 346h9m24 0h6m23 0h1m2 0h3M569 349h1M567 352h5M281 361h3" stroke="#3636f6" stroke-width="2"/>
</g>
<path d="M124 146L126.3 147.4L128.2 147.1L130.4 147.4L132.5 149L134.8 148.5L136.7 150.2L139.2 150.4L141.8 150.1L144 151L146 151.9L148.4 152.4L150 154L152 155L155.2 153.9L157.5 155L158.1 156.8L157.1 159.1L157.5 161.4L159.4 163L159.6 165.4L159 167.5L158.7 169.4L160.9 171.1L161.1 173.4L160.5 176.3L161.1 178.2L162.5 180L160 182L162.4 183.6L165 184L167.2 184.4L169.1 185L170.6 186.6L173.5 186.3L175 187.5L177.2 187.4L179.8 187.2L182.5 187.5L181.3 189.8L180.7 192.3L181 195L183.3 195.8L185.2 195.1L186.7 194.6L188.6 195.2L191 195L193 195.6L195 196.9L197.2 196.6L198.8 197.7L200.9 198.4L202.5 199L204.2 198.8L206.7 200L208.4 199.9L211 199.1L213 200.3L215 200L217.1 201.2L219.4 201.4L221.6 202.8L223.5 204.1L225.5 205.5L227.5 206L229 207.5L231.5 208.2L234.2 208.3L236 210L235.2 212.3L236.4 214L235.1 216.6L236.2 218.1L234.8 220.5L235 222.5L233.7 224.2L233.3 227.1L232.5 229L231.1 230.9L229.7 233.4L227.5 234.5L225.6 235.8L223.1 237L221.2 237.7L219.5 239.5L217.5 241L219.2 242.9L221.3 243.9L223.2 244.8L225 246L226 248.4L226.1 250.6L227 252.6L226.2 255.3L226.6 257.3L226.9 259.9L227.5 262L227.7 264L229 266.1L229.7 268.4L229.4 270.1L229.6 272.1L230 274.5L229.3 276.9L229.4 278.6L229.2 280.4L230.1 282.2L230 284.5L228.4 286.7L226.7 288.1L225.4 290.2L224 292L223.1 294L222.7 295.9L222.1 298.4L221.9 300.3L220.2 302L220 304.5L218 306.2L216.3 307.2L213.5 307L211.2 308.4L210.2 310.6L207.5 311L206.7 313L207.7 315.6L208.2 317.8L207.5 319.5L205.7 320.9L205.1 323.2L202.6 323.5L202.3 325.9L200 327L199.9 329L198 329.7L197.5 332M182.5 187.5L184 185.9L185.8 184.3L187.5 183.2L189.7 181.9L191 180L193.1 178.7L194.6 178.8L197 178.2L198.1 176.4L199.8 175.1L201.9 174.5L204 174L206.3 174.1L207.6 172.1L209.4 171.9L211.7 171.1L213.9 171.2L215.8 170L217.5 169L219.6 168L221.6 168.2L224.3 166.9L226.4 166.7L228.1 166.9L230.9 167.6L233 166.2L235 166L237.2 165.6L239.5 164.6L241.2 162.9L243.8 163.3L246 162.2L247.5 161L249.7 160.5L251.7 159L253.3 158.4L255 156.3L257.5 156L259.5 156.6L262.1 155.7L263.9 155.3L265.9 155.5L268.3 156.5L270.5 155.8L273.1 155.2L275 156L277 155.3L279.2 156.4L281.3 156L283.4 156.1L285.3 155.9L287.9 155.1L290 156L292.7 156L294.4 155.6L296.6 154.7L299.1 154.3L300.6 153.2L302.8 153.6L305 152.5L305.4 149.8L306.3 147.6L308.6 146.7L309 144L311.2 143.7L313.6 141.9L316.1 142.2L318.1 140.6L320 140L320.5 137.6L321 136.4L321 134L323.6 134.8L325.7 135.1L328.4 133.6L330.1 134.5L332.5 134.3L335 135L336.7 135.7L338.7 136.1L341 135.9L343.1 135.7L345.1 136.6L347.5 136L349.7 135.1L351.5 134.3L354.1 132.9L355.4 132.1L358.8 132.3L360.5 131.2L362.5 130L364.9 129.2L365.6 126.3L368.2 125.5L370 124L372.2 123.8L374.8 122.6L376.9 121.4L379 120L381 119.8L383.3 120.1L385.6 121L387.5 121L389.7 121.1L391.9 122.5L393.7 123.4L395.7 124L398 125L400 125L401.8 124.1L403.8 122.6L405.6 121L408.2 120.8L410 119L412 118.5L414.2 117.5L416.7 117.5L419 117.4L420.8 117.5L422.5 115.6L425 116L426.8 114.1L428.7 113L430.8 112.1L433.1 111.7L435 110L434.9 107.8L436.8 105.7L436 103.6L436.2 101.1L437.5 99M300 170L298.2 171.1L296 172.3L295 173.6L293.3 174.4L291.1 176L290 177.5L288.3 178.6L286.7 181L285.4 182.9L284.5 184.7L282.5 186L280.6 187.7L279.5 189.2L277.6 190.4L276 192.5L278.1 193.3L279.7 195L282.1 195.7L284.2 197L286 197.5L287.3 199.6L289.2 201.1L290 203.4L291 206L289.9 207.4L288.2 209.4L288 211.2L286 212.5L285.6 214L285.6 216.5L284.6 218.5L284 220L286.4 220.7L288.4 220.7L290.5 222.2L292.4 222.7L295 222.5L297.5 222.3L299.2 222.7L301.8 223.8L304.1 224.3L306 225L307.8 225.5L309.9 226.4L312 226.4L314.2 227.2L315.3 228.3L317.5 229L318.7 227.1L321.2 226L323.6 225.2L325.2 223.5L327 222.5L329 221L328.2 219L328.8 216.8L328.4 214.7L327.2 212.1L327.5 210L329.1 208.1L329.7 206.3L331.4 204.3L332.4 202L332.5 200L334.9 199.3L336.7 198.9L338.4 199.1L340.6 199.5L342.9 199.7L345 199L345.3 197.3L347 195.2L348 193.6L348.9 192L350 189.5L350 187.5L347.5 187.1L345.7 186.4L344 185.3L342.5 184L341 182.5L337.9 182L336.5 180.9L334.1 180.5L331.8 179.3L330 177.5L327.8 177.2L325.8 178.6L323.5 178.1L321.1 178L319 178L316.7 179.5L314.5 178.3L312.5 179L310 177.6L307.6 176.9L306 175L304.5 173.5L302.2 172.9L301.1 172.1L300 170M400 125L401.5 126.9L403.4 128.1L403.8 130.8L405.9 131.9L407.5 134L407.7 136.2L407.6 137.9L408.7 140.1L407.8 142.3L409 144L408.4 145.6L406.7 147.2L405.4 149L404 150L405.8 151L407.4 153.3L409.3 154L410.7 155.4L411.8 157.5L414 159L416.3 159.6L418 159.8L420.8 159.3L422.4 160.5L425 161L427.4 160.1L429.6 160.7L431.4 160.4L433.6 161.8L436 161L437.2 163.2L437.6 165.5L438.7 167.7L440 170L439 171.5L439.1 173.9L438.2 176.5L436.8 178.2L436 180L437.1 181.7L439.7 182.6L441.3 182.5L443.3 184L445 185L443.5 186.6L443.1 188.6L441.7 190.5L440.8 192.4L439 194L440.6 195.8L443.5 195.9L445.2 197.4L446.8 198.5L449 200L450.9 201.7L452.4 203.1L455.2 203.8L457.5 205L456.9 207.2L456.6 209.1L456 211.3L454.9 212.7L454 215L452.7 216.6L450.9 217.3L448.7 218.7L447.8 220L445.9 221.9L444 222.5L442.2 223.7L440.1 225.9L437.7 226.4L436 228L433.5 229.2L431.6 229.3L428.9 229.8L426.8 229.5L424.4 230.3L422.3 230.6L420 231L418.7 232.9L417.3 234.3L415 234.2L414 236L414.6 237.8L414.7 240.2L414 242L415.9 244L417.2 245.5L418.4 248.1L420 249.5M227.5 262L229.3 262.1L231.8 261.4L234.1 262.5L236.1 262.1L238 262.3L240 262L241.8 262.7L244.1 261.7L246.6 262.3L248.5 263.3L250.3 263.6L252.5 263L255.2 262.9L256.4 260.8L258.4 260.3L261.1 260.5L263.2 259.5L265 258L267.3 257.6L269 259.4L271.2 258.8L273.9 259.7L276.2 259.3L277.6 260.7L280 261L282.6 260.9L284.4 260.5L286.3 258.8L288.4 259.1L290.2 257.4L292.5 257L295.1 256.5L296.8 257.6L299.1 258.4L300.9 258.8L303.1 258.4L305.6 259.2L307.5 259.5L309.8 258.6L311.9 260.2L314 259.3L316.4 259.5L318.7 258.7L320.4 259.6L322.7 260.3L325 259.5L326.8 260.3L328.7 260.2L330.9 260L333.3 260.1L335 261L337.2 261.4L339.3 262.1L341.8 262.4L344 263L346 262.2L348.5 261.3L350.4 260.8L352.7 259.6L354 258L354.3 256.3L354.3 254L354 252L356 252.2L358.2 252.4L360.3 252.2L362.5 251L364.8 251.5L366.8 251.5L369 252.8L371 253L372.2 254.9L373.6 256.1L375.9 257L377.5 258L378.9 256L381.3 256.1L383.2 255L384.4 252.9L386 252L388.3 251.9L390.4 252.7L392.6 252.2L394 251L396.5 250.6L398.7 252.2L400.7 252L402.8 250.4L405 251L407.6 251.4L409.2 250.7L411.4 250.9L413.7 249.7L415.9 249.1L417.6 250.6L420 249.5L421.8 249.9L424 248.4L426.2 249.8L428.5 248.6L431 247.8L433.1 247.7L435 248L437.1 249.1L438.9 250.5L441 251.7L443 251.2L445 253L444.7 255L443.8 257.9L443.5 259.6L443.7 262.4L442.5 264.5M442.5 264.5L444.8 265.2L446.6 265.5L448.7 266L450.4 265.8L452.6 265.7L455 266L457 265.6L458.9 266.4L461.3 266.8L464 266.1L465.6 267L467.9 266.1L470 267L471.7 265.3L472.5 263L474.8 263.1L477.8 263.5L480 264.5L482 262.4L484.2 262.3L485.7 260.1L488.2 260.2L490 258L490.1 256.1L491.8 253.5L491.9 251.8L492.5 249.5L494.6 248.8L496 247.6L496.3 245.3L498.2 244L500 243L502.2 242.5L504.1 240.5L506.1 240.1L508.4 239.5L510 238L512.4 236.5L514 235.7L516.9 235.6L519 234.5L521.6 235.1L523.7 235.8L525.5 238.4L527.9 238.8L530 239.5L531.9 240.1L534.3 240.9L536.8 240.8L538.4 241L540.8 241.1L543 242.4L545 242L547.2 242.8L549.6 243.3L550.8 245.4L553 246.1L555.3 247.7L557.5 248L559.2 249.6L562.1 249.3L564.5 250.1L566 251.1L568.6 252.1L570.6 252.8L572.5 254.5L574.8 253.5L576.4 253L579 253.9L581.3 252.3L583.1 252.5L585.4 252.8L587.5 252L589.3 250.6L590 248.5L592.3 248L594.3 249.1L596.7 248.8L598.8 248.9L601.2 248L603.3 249.2L605.8 247.8L607.9 248.6L610 248.5L612.5 248.2L614.5 249.2L616 249.2L618.6 249.9L620.6 251L622.5 251L622.3 248.7L622.3 246.8L622.6 244.4L623.75 242.5L626.3 243.3L628.75 242.5M442.5 264.5L440.5 266.3L439.4 268.1L437.5 269.5L437.2 271.6L437.7 273.8L438.6 276.1L438.8 278.4L439 281L438 283.2L435.7 284.6L434 286L433.5 288.7L432.3 290.7L430.9 293.1L429 294.5L427.7 296L426.9 298.2L425.5 299.3L423.3 300.4L422.5 302L424.4 301.8L426.9 302.9L429.5 301.1L431.4 302.7L434 302L435.2 304.5L434.5 306.8L435 309.5L437.3 309.8L439.1 310L441.3 311.4L442.8 311.8L445 313L447.3 313.5L449.6 312.3L451.5 313.2L453.8 313.1L456.3 313.6L457.8 312.7L460.4 312.7L462.5 313L463.6 314.2L464.8 316.3L465 318L463.4 319.1L462.4 321.3L460.9 323.5L459.3 324.7L457.5 326L456.7 327.5L455.8 330L454 331L454.3 333.3L455.6 335.2L455.4 337.5L456 340M625 174L624.7 176.4L625.4 178.6L624.7 180.7L623.7 182L624.2 184.3L624.2 186.9L624.4 188.8L623.9 190.5L624.2 192.7L624 195L621.9 195.9L620.4 197.3L618.3 197.5L616.2 197.7L614.5 198.5L612.5 200L613.2 201.7L613.3 204.3L615.1 205.7L616.1 208.1L616 210L615 212.2L615.4 213.8L615.5 216.1L615.4 217.7L615 220L616 221.4L618.1 223.2L618.7 225.3L619.8 227L621.7 228.2L622.5 230L624.1 231.2L625.1 233.4L625.8 235.7L627.5 237.5L629 240L628.75 242.5M628.75 242.5L631 243.7L633.2 244.1L635.3 244.5L637.5 244L639.4 245.5L641.4 245L642.9 246.8L645 247.5L645.7 249.4L648.4 250.3L649.9 252.6L651.9 253.9L652.5 256L654.2 257.3L656.9 257.9L659.7 256.9L661.6 257.3L663.75 258.5L665.7 258.8L667.7 259.5L669.3 261.1L671.5 262L672.6 263.2L675 263.5L676.4 265.5L677.4 267L679 268.6L681 269.5L682.5 271L681.4 273.2L680 275.2L679 277L679.4 278.8L680.4 281.2L680.3 283.8L680.4 285.6L681 288L683.2 288.9L685 290.5L687.4 289.7L689 288.5L691 287L691.8 285L691.8 282L693.6 280L694 278L695.8 278.5L697.9 277.1L700 278L702.6 278.7L705 280L706.6 279.8L708.9 279.2L710.7 280.2L712.8 279.4L715 280L717.4 279.3L718.7 278.1L721.6 277.6L722.5 275.8L725 275L726.8 274.3L729 273.2L731.4 272L733 271.6L735.8 270.9L737.5 270L739.9 270.4L742 271.5L744 272.5L746 272.5L748.4 274.2L750.4 274L752.5 274L753.7 275.5L756.4 275.7L758.8 276.2L760 277.5L758.3 279.4L756.7 280.8L755.7 282.6L755 285L756.9 286.7L759.1 287.4L761.8 288L764 289L765.3 291.3L766.6 293.2L768.1 294.4L769.2 296.5L770 299L771.3 300.3L773.3 302.3L774.2 303.6L776.9 304.3L779 305.5L780 307.5L782 308.1L783.9 308.2L785.8 310.3L788.4 310.1L790 311L791.5 309.1L793.7 307.5L796 307" fill="none" stroke="#000" stroke-width="1.25" stroke-linejoin="round" shape-rendering="crispEdges"/>
<path d="M11 166L11.7 163.4L13.3 161.7L14.5 159L17.1 158L18.9 157.7L21.8 158.5L24 157.5L24.9 159.6L25 161.7L26 164L28.5 163.8L30.3 164.9L32.5 165L33.4 167.5L34.3 169.6L36.2 171.8L37.5 174L40.1 173.8L42.5 174L43 171L44.6 169.1L45 166L46.6 164.4L48.4 161.9L50.1 161L52.2 159.6L54 157.5L56.2 156.7L57.4 154.2L59.8 153.1L62.5 152.2L63.5 150.4L66 149L68.6 147.8L70.8 147.8L72.6 146.7L75.6 147.2L77.6 145.9L79.7 145L82.5 145L85.6 144.3L88 144.9L90.9 145.4L94 145L96.6 143.5L99.2 144.1L102 143.1L104.3 141.3L107.5 141L110.1 141.5L112.5 142.5L114.6 142.7L117.4 143.6L119 145.2L121.5 145.2L124 146L126.2 144.8L128.2 142.2L131 141L131.2 138.3L132.4 136.4L132.5 134L135 133.6L137.5 133.1L139.4 131.7L141.5 131.1L144 131L147 131.6L149.1 131.6L152 131.2L155 131.5L157.1 129.7L158 126.4L160 124L163.3 123.3L166 124L168.1 122.7L170.1 120.9L172.5 119L174.6 117.9L176.2 115.9L179 115L180.8 117.1L182.5 119L184.9 119.4L186.6 120L189 121L191.1 119.2L193.8 118.3L196 116L196.5 113.6L198.8 111.8L199.1 110.1L200 107.5L202.7 107.5L204.9 106.1L207.6 105.5L210.3 106.1L212.4 105.8L215 105L217.3 105.3L219.9 104.2L222.3 104.6L225.1 104.6L227.6 103.9L230.2 103.9L232.5 104L235.6 103.3L238.3 103.1L241.2 103.1L244 102.5L244.4 99.9L244.7 98.1L246 96L248 95.6L250.8 94.3L253.2 94.6L255.7 94.2L257.7 92.8L260 92.5L262.7 92.3L264.7 92.3L267.7 93.1L270 92.5L272.7 92L275.1 91.2L277.2 90.1L280 89L282.5 88.2L284.8 87.7L287 86.6L289 86L291 84.2L292.6 83.7L295 82.5L297.8 82.4L300.9 81.8L303.4 81L306.2 81.2L309 81L309.4 78.8L310 76L307.2 75.7L305.3 76L302.5 75.9L300 75L298.7 73.3L296.4 71.7L294 71L292.7 68.7L292.5 66L294.9 63.6L297.5 62L300.2 62.2L303.5 62L306 62.5L308.1 63.7L310.7 64.2L312.2 65.7L315 66L317 64.7L319.2 64.4L321.3 62.8L324 62.5L325.9 64.2L327 65.7L329 67.5L332.1 67.6L335 69L334.8 71.7L335.9 73.9L336 76L337.8 77.6L340.1 78.3L342.5 79L342.5 82L342.1 84.9L341 87.5L343.4 88.7L345.2 88.6L347.9 90L350 90L352.8 91L355.4 90.7L358.1 90.3L361 91L362.8 89.7L364.5 87.9L366 86L368.9 85.9L371.1 85.5L374 85.5L376.1 86L378.9 85.5L381 85.8L383.8 85.3L386.5 86.1L389 86L389 82.7L388.6 80L387.5 77.5L386.6 75L385.7 72.6L385 70L386.8 68L388.5 67.2L391 66L393.4 66.4L395.4 66.6L397.4 67.3L400 67.5L402.5 68.2L404 70L407.3 68.7L410 67.5L411.5 69.4L412.5 71L414.5 70L417.3 70.5L420 70L422.2 71L424 73.1L426 75L424.8 77.8L424 80L426 81.7L427.6 83.8L430 86L432 87.1L433.8 88.3L436 90L436.3 92.4L436.4 94.9L437.4 96.8L437.5 99L439.4 97.4L442.3 96L444 94L446.9 95.2L449.1 95.6L452.1 94.7L455 96L457.7 96.4L460 96.9L462.1 97.8L464.6 98.2L467.7 98.2L470 99L472.3 100.1L475.3 100.5L477.3 101.2L480 102.5L482.4 101.9L485.3 102.4L488.2 102.3L491.2 101L494 101L495.7 103L497.4 105.1L499 107.2L500 110L502.5 110.6L505.5 109.7L507.8 110.6L510.8 109.8L513.4 110.4L516 110L517.1 112.1L517.2 115.3L517.7 117.9L519 120L521.7 119.9L525 120L527.5 118.7L529.2 116.7L531 115L533.2 115.3L535.6 116.1L538.2 116.9L540 117.5L542.5 117.5L545.2 115.5L547.6 113.9L550 112.5L552.8 112L555.8 112.7L558.1 113.4L561.3 113.1L564 113L566.5 114.6L568.2 117L570.3 118.2L572.3 120.2L573.9 122.3L576 124L574.8 126.2L573.2 128.4L571.9 130L570.8 132L569 134L566.2 133.8L563.1 134.5L560.5 134.7L557.5 136L554.5 136.8L552.3 138.6L549.9 139.6L547.6 140.9L545 142.5L547.3 143.8L548.6 146L550 147.5L553.4 148.5L556 150L559 150.7L561.1 150.7L564 150L566 152L567.3 154.6L569 157.5L571.6 157L575 157.5L577 159.6L579.9 161L582.5 162.5L584.3 164.8L586.4 166.1L588.4 167.6L590 170L591.3 171.9L592.3 174.4L593.2 176.5L594 179L595.1 180.6L597.7 181.2L599 184L601 185L603.8 185.6L606.4 185.1L608.6 185.4L611 186L613.4 184.6L614.8 182.7L616.5 181.1L619 180L621.7 178.3L623.2 175.9L625 174L627.5 174.1L630.1 173.7L632.5 172.5L634.6 171L637.3 170.6L639.2 169.9L642.1 168.6L644 167.5L647.3 168.6L650 169L650.4 166.6L650.2 164.3L651 162.5L648.2 161.6L645.8 161L643.5 159.3L641 159L639.7 156.3L638.1 155.1L637.1 151.9L636 150L634.3 148.5L631.7 147.8L630 146L631.6 144.3L633.3 142.9L635 141L637.2 142.2L640 141.7L642.1 143.6L645.4 143.4L647.8 144.2L650 145L653 145L654.8 145.8L657.8 147.3L660 147.5L662.9 148.7L665.9 149.2L668.1 149L671 150L674 150L676.5 151.4L678.8 152.5L681 155L683.8 155.3L686.5 156.6L689 157.3L691.5 157.6L694 158L694.3 160.7L695 164L698.1 163.9L700.8 164.6L702.9 165.4L706 166L708.8 165.7L711.3 164.6L714.2 164.5L717 164.7L720 164L722.7 163.7L725.1 164.2L727.7 162.6L730.4 162.6L733 162.1L736 162.5L737.1 159.8L739 157.5L741.1 158.8L743.6 159.2L746 161L746.7 163.2L746.8 166.3L746.8 168.3L747.5 171L745.6 172.8L742.6 173.7L740 175L737.9 175.3L735.3 176.7L733 176.9L730.8 177L728.4 178.8L726 179L728.5 180.5L730.2 182.2L732.7 183.2L735 184L737.4 184L739.5 184.7L741.5 184.9L744 186L745.2 188.7L746.6 190.6L748.5 192.5L750 195L752 196.8L753.8 198.5L756 199.3L757.5 201L760.1 200.8L762.6 201.2L764.9 202.2L767.5 202.5L770.1 201.2L772.4 200.5L774.6 199L778 198.8L780 197.5L780 194L782.7 192.7L785 192L786.5 193.4L789.3 193.8L791 195L792.1 197.8L792.5 200L795.2 200.1L797.2 200.8L799.8 201.3L802.5 201L805 201.6L807.6 203.6L810.4 204.7L812.9 206L815 207.5L817.5 207.3L820.1 208L822.5 209L824.9 208.5L827.6 208.8L830 208L832.4 208.6L834.9 209.3L837.8 209.7L839.9 209.9L842.9 209.8L845.2 211L847.5 211L849.8 209.9L852.5 209.5L852.7 212.1L853.7 215L855 217.5L856.4 219.8L857.6 222.4L857.5 224.8L859.4 227.6L860 230L861.3 232.4L861.2 235.2L862.5 237.5L865.5 237.7L867.5 239.1L870.1 239.1L872.5 240L874.7 240.1L877.2 239.9L879.8 240.2L882.5 241L883.5 243.8L884.8 246.6L886 249L887.5 251.2L888.6 253.7L889.5 255.9L890 259L887.9 261.1L884.9 261.9L882.5 264L880.2 263.9L877.6 265L875 265L872.5 265.5L869.7 264.5L867.2 265.1L864.9 264.2L862.2 264.8L860 264L857.6 265.6L854.7 266.6L852.1 267.8L850 269L848.6 271.4L846.6 272.9L845 275L842.4 275.6L840 276.9L837.7 278L835.2 278.2L832.5 279L831.6 282.1L831 285L829.1 286.3L826.7 287.3L824.7 288L822.1 288.4L819.7 289.9L817.5 290L815.1 290.8L812.7 291.3L810.4 291.4L807.8 291.7L805.2 292L803 292.5L801.5 294.7L799 297L798.9 299.7L798 302.5L796.6 304.9L795.7 307.3L794 310L793.2 311.7L792.5 314L791.6 316.6L790.7 318.7L790 321.5L787.4 323L785.5 324.4L783 325L780.5 325.3L778.5 325.5L776.2 325.5L773.1 325.3L771 326L768.6 328.2L766 330L765.4 332.4L765 334L764.1 336.3L762 338L759.3 338.4L757 338.2L754.5 339.5L752 339L750 340.2L747.3 341.1L745 342.5L743 344L740.5 345L738 346.5L734.9 347.4L732.7 347.7L729.4 348.4L727 349L724.3 349.9L721.9 351.2L720 353L717.5 353.2L715 354L711.9 353.1L709.4 351L707 350L704.4 350.8L702.1 351.5L700 351.5L697.8 351L694.6 352.3L692.3 351.6L690 352.5L687.6 351.9L684.5 350.2L682.8 348.4L680 347.5L676.7 346.8L674 347L671.3 348.4L669.3 349.3L667 350.5L664 351L662.4 352.4L660.5 354.2L658.6 355.6L657.2 358L655 359.5L653.3 361.6L651.6 363.4L650.3 365.4L649.3 367.4L647.5 369.5L645.8 371.1L644.9 373.1L643.9 375.3L642.4 377.8L641 379.5L639 378L637.7 375.5L636.5 373.3L635.9 370.5L635 368L632.3 368.3L629.8 367.1L627.5 368.3L624.9 367.7L622.3 367.9L619.6 367.2L617.5 367L614.9 367.1L612.2 365.7L610.3 364.8L607.5 364.5L605.9 362L605 359.5L602.7 359L599.9 357.6L597.4 357.8L595 357L592.9 355.6L589.9 354.7L587.5 354.5L584.8 354.6L582.4 355L580.2 355.5L577.5 356L575.6 357.7L574 359.5L572.3 361.3L570.7 362.3L569 364.5L566.2 363.9L563.3 364.8L560 364L557.5 364.1L555.2 363.9L552.6 363L550.2 362.7L547.5 363L545.1 362.7L542.4 362.5L540.3 362.7L537.6 362.6L534.7 362.6L532.5 363L530.2 362.9L527.2 361.1L525.2 360.3L523 359.8L520 359.5L517.6 358.5L515.8 356.3L513.8 355.3L512.6 353L510 352L507.4 351.1L505.5 349.4L502.7 348.8L500 348L497.7 347.7L494.9 347L492.5 346.7L490 346L487.2 346.2L485.1 346.7L482.6 346.5L479.8 348.3L477.5 348L475.3 347.2L472.9 345.8L470.3 344.5L468.4 343.6L466 342L463.1 342L461.1 341.4L458.2 340.4L456 340.5L453.7 339.2L451.7 338.6L449.9 337.1L447.5 336L445.4 335.8L442.5 335.1L441 333.9L438.1 333.8L436 333L433.3 332.2L430.7 332.2L427.5 331.8L425 332L422.5 334.5L420.2 335.1L417.5 336.2L415.4 335.7L412.5 336.5L410.7 333.9L408.8 332.5L407.5 329.5L404.9 329.7L402.2 328.6L400 328L397.7 328.7L395.4 327.3L392.6 328.4L390 328L389.4 330.4L387.2 332.3L386 334.5L386.2 337.1L386.5 339.2L386.9 342.1L387.5 344.5L387 346.7L386 349.2L385.3 350.8L384 353L384.3 355.8L384.9 358.3L386 360.5L383.2 360L380.4 359.2L378.1 358L375 358L372.8 357.9L369.7 359.3L367.5 359.5L365 359.5L362.5 361.3L360.9 364L359 366L356.1 367.7L355.2 370.2L352.5 372L352.5 374.3L351.3 377.2L352 379.2L351 382L347.9 382.8L345 383L343.4 381.2L341.1 379.6L340 378.2L337.5 377L334.6 378.6L332.5 380.5L330.3 379.1L327.4 379.3L325 378L322.5 377.5L320 376.2L317.5 376L316 378.2L315 380.5L313 381.9L309.8 382.8L307.5 383.5L305 385.3L302.9 387.2L301 389L299.5 387.3L297.5 387L294.8 385.6L292.4 385L290.2 385.3L287.9 383.3L285 383L282.8 383.1L280.4 382.4L277.7 382L274.7 381.8L272.5 382L270.4 380.8L267.7 379.7L265.9 378.8L262.7 378.6L261 377L263.3 375.4L266 373L264 370.9L261.6 369L260 367L257.7 367.1L255.1 366.6L252.5 366L250.6 364.2L248 364L245.7 362.7L244 361L242.2 359.8L239.7 359.6L237 359L235 358L234 355.7L231.8 354.1L230 352L227.9 350.6L226.5 348.7L226 346.7L224 345L221.6 344.7L218.9 344.3L216 344.5L214.1 342.2L212.2 340.6L210.4 338.2L208.3 336.2L206 334.5L203.3 333.9L200.7 333.4L198.3 332.7L196 332L195.1 334.3L195 336L192.1 335.4L189 334.5L187.1 333L184.5 332.9L182.5 332L181.4 329.5L181.6 327.3L180.3 325.1L180 323L177.5 321.3L175 321L173.6 319.4L171 317.9L169.3 317.3L167.2 315.9L165 314.5L162.1 314.9L160 313.4L157.4 313.2L155.3 313.4L152.5 313L151.4 310.6L151 308L149.1 306.7L146.6 306L144.1 304.5L142.5 303L140.7 301.3L139.7 299.1L138 297L135.7 295.1L135 293L133.4 291.7L131.9 289.8L129.6 288.6L127.5 287.5L124.8 287.4L122.2 286.5L119.4 286.4L116.5 285.6L114 285L111.5 285.5L108.6 284.5L105.3 284.8L102.5 285L101.5 282.9L99.7 281.2L97 279.8L95.3 278.1L94 276L91.9 274.9L89 274L87.1 272L85.4 270.3L82.5 269L82.7 266.2L84 264L81.6 263.1L79.9 261L77.2 261L75 259L74.7 256.6L74.7 254.6L74 252.5L71.8 251.3L69.6 249.6L67.5 247.5L68.1 245.1L67.5 242.5L64.6 241.2L62.5 239L60.7 238L58.3 235.7L55.7 235.4L54 234L52.9 231.9L52 230L54.6 229.3L56.4 228.3L59 227.5L59.8 225.1L59.6 222.3L60 220L63 218.7L65 217.1L67.5 216L68.1 213.5L70 211L67.5 210.2L65.2 208.8L62.5 207.5L62.4 204.9L61 202.5L58.3 201.7L56.3 200.3L54 200L51.7 197.9L48.5 197.1L45.9 195.9L44 194L41.6 193.2L39.1 192.1L36.5 190.4L34 190L32.6 188.4L30.6 187.3L29.1 185.5L26.9 184.3L25 182.5L25.5 179.7L25 177.5L23.1 175.6L21.5 173.9L20.2 172.1L19 170L16.5 168.6L13.4 167.7Z" fill="none" stroke="#000" stroke-width="2" stroke-linejoin="round" shape-rendering="crispEdges"/>
</svg>
<div id="fg">
<h1 class="abs">Czech Republic</h1>

<div class="abs info" style="top:437.8px;transform:scale(1.0894,1.025);transform-origin:0 15.9px"><b>Mean Vegetation Health Index (VHI)</b></div>
<div class="abs info r" style="top:467.2px;transform:scale(1.0,1.025);transform-origin:0 15.9px">from</div>
<div class="abs info r" style="top:467.2px;left:74px;transform:scale(1.045,1.025);transform-origin:0 15.9px">: start of SEASON 2</div>
<div class="abs info r" style="top:497.2px;transform:scale(1.0,1.025);transform-origin:0 15.9px">to</div>
<div class="abs info r" style="top:497.2px;left:64px;transform:scale(1.0527,1.025);transform-origin:0 15.9px">: dekad 1 February 2026</div>
<div class="abs info r" style="top:527.2px;left:17.6px;transform:scale(1.0445,1.025);transform-origin:0 15.9px">NON-CROPLAND PIXELS EXCLUDED</div>
<div class="abs info r" style="top:557.2px;left:17.6px;transform:scale(1.0735,1.025);transform-origin:0 15.9px">METOP-AVHRR</div>
<div class="abs info r" style="top:587.2px;transform:scale(1.058,1.025);transform-origin:0 15.9px">WGS84, Geographic Lat/Lon</div>

<div class="abs lgt">Mean VHI</div>
<div class="abs lgu"></div>
<div class="abs sw" style="top:450px;background:#990000"></div><div class="abs lg" style="top:451.5px">&lt; 0.15</div>
<div class="abs sw" style="top:467px;background:#ff0000"></div><div class="abs lg" style="top:468.5px">0.15 - 0.25</div>
<div class="abs sw" style="top:484px;background:#ff8800"></div><div class="abs lg" style="top:485.5px">0.25 - 0.35</div>
<div class="abs sw" style="top:501px;background:#ffc86e"></div><div class="abs lg" style="top:502.5px">0.35 - 0.45</div>
<div class="abs sw" style="top:518px;background:#ffff00"></div><div class="abs lg" style="top:519.5px">0.45 - 0.55</div>
<div class="abs sw" style="top:535px;background:#66ff00"></div><div class="abs lg" style="top:536.5px">0.55 - 0.65</div>
<div class="abs sw" style="top:552px;background:#33cc00"></div><div class="abs lg" style="top:553.5px">0.65 - 0.75</div>
<div class="abs sw" style="top:569px;background:#009900"></div><div class="abs lg" style="top:570.5px">0.75 - 0.85</div>
<div class="abs sw" style="top:586px;background:#267300"></div><div class="abs lg" style="top:587.5px">&gt;= 0.85</div>
<div class="abs sw" style="top:614px;background:#3535ff"></div><div class="abs lg" style="top:615.5px;letter-spacing:0.2px">off season</div>
<div class="abs sw" style="top:631px;background:#333333"></div><div class="abs lg" style="top:632.5px;letter-spacing:0.2px">no data</div>
<div class="abs sw" style="top:648px;background:#00c5c5"></div><div class="abs lg" style="top:649.5px;letter-spacing:0.2px">no season 2</div>
<div class="abs sw" style="top:665px;background:#c8c8c8"></div><div class="abs lg" style="top:666.5px;letter-spacing:0.2px">no cropland</div>

<svg class="abs" style="left:669.4px;top:508.3px" width="60" height="60" viewBox="-30 -30 60 60">
<circle cx="0" cy="0" r="26.9" fill="#fff" stroke="#111" stroke-width="2.7"/>
<g fill="none" stroke="#111" stroke-linecap="butt">
<path d="M-15.2 -20.4L-1.4 7.4M15.2 -20.4L1.4 7.4" stroke-width="2.2"/>
<path d="M-11.3 -20.4L-0.7 1.8M11.3 -20.4L0.7 1.8" stroke-width="1.5"/>
<path d="M0 11V25" stroke-width="2.1"/>
</g>
<g fill="#111">
<path d="M0 -12.6C1.8 -9.8 2.7 -8.3 2.7 -6.9A2.7 2.7 0 0 1 -2.7 -6.9C-2.7 -8.3 -1.8 -9.8 0 -12.6Z"/>
<path d="M-5.3 -5.8L0 -2.3L5.3 -5.8L4 -0.7L0 2L-4 -0.7Z"/>
<path d="M-4 0.3L0 3L4 0.3L3 4.4L0 6.4L-3 4.4Z"/>
<path d="M-2.8 5.2L0 7.2L2.8 5.2L1.8 8L0 9L-1.8 8Z"/>
<path d="M-1.6 6.2C-5.6 4.8 -7.8 7 -7.2 9.5C-6.5 12.2 -2.6 12.8 0 10.6C2.6 12.8 6.5 12.2 7.2 9.5C7.8 7 5.6 4.8 1.6 6.2L0 8.2Z"/>
</g>
<g font-family="'Liberation Sans',Arial,sans-serif" font-weight="bold" fill="#111" stroke="#111" stroke-width="0.35">
<text x="-21.4" y="0.7" font-size="15.2" textLength="6.6" lengthAdjust="spacingAndGlyphs">F</text>
<text x="-5.2" y="-11.8" font-size="15.2" textLength="10.4" lengthAdjust="spacingAndGlyphs">A</text>
<text x="12.8" y="0.7" font-size="15.2" textLength="10.4" lengthAdjust="spacingAndGlyphs">O</text>
<path id="arcL" d="M-21.88 8.84A23.6 23.6 0 0 0 -0.82 23.59" fill="none" stroke="none"/>
<path id="arcR" d="M4.71 23.13A23.6 23.6 0 0 0 23.57 1.24" fill="none" stroke="none"/>
<text font-size="6.9" letter-spacing="1.35" stroke-width="0.2"><textPath href="#arcL">FIAT</textPath></text>
<text font-size="6.9" letter-spacing="1.15" stroke-width="0.2"><textPath href="#arcR">PANIS</textPath></text>
</g>
</svg>
<div class="abs fao" style="top:513.1px">Food and Agriculture</div>
<div class="abs fao" style="top:531.2px;letter-spacing:0.1px">Organization of the</div>
<div class="abs fao" style="top:549.1px;letter-spacing:0.03px">United Nations</div>
<div class="abs rule"></div>
<div class="abs giews" style="top:592.3px">Global Information and Early</div>
<div class="abs giews" style="top:610.6px;letter-spacing:-0.43px">Warning System – GIEWS</div>

<div class="abs disc" style="top:687.5px;letter-spacing:0.177px">Disclaimer: The boundaries and names shown and the designations used on this map do not imply the expression of any opinion whatsoever on the part of FAO</div>
<div class="abs disc" style="top:701.5px;letter-spacing:0.252px">concerning the legal status of any country, territory, area or of its authorities, or concerning the delimitation of its frontiers and boundaries.</div>
</div>
</div>
</body>
</html>
